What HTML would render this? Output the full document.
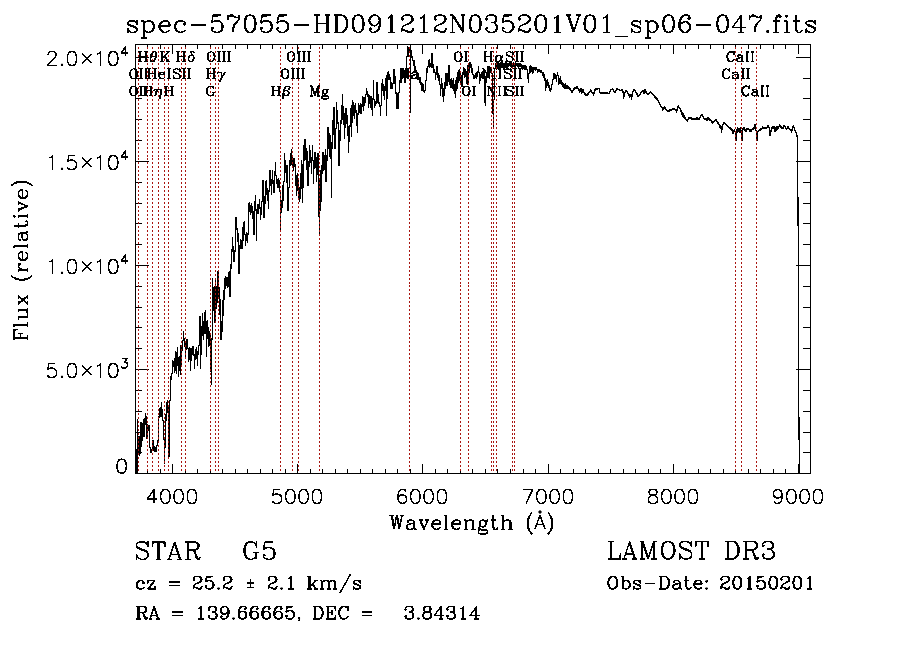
<!DOCTYPE html>
<html><head><meta charset="utf-8"><title>spec-57055-HD091212N035201V01_sp06-047</title>
<style>html,body{margin:0;padding:0;background:#fff;font-family:"Liberation Sans",sans-serif}svg{display:block}</style></head>
<body><svg width="900" height="649" viewBox="0 0 900 649">
<rect width="900" height="649" fill="#fff"/>
<path d="M135.5 44.5H810.5V473.5H135.5Z M147.5 473.5v-4.5M147.5 44.5v4.5 M160.5 473.5v-4.5M160.5 44.5v4.5 M172.5 473.5v-9.5M172.5 44.5v9.5 M185.5 473.5v-4.5M185.5 44.5v4.5 M197.5 473.5v-4.5M197.5 44.5v4.5 M210.5 473.5v-4.5M210.5 44.5v4.5 M222.5 473.5v-4.5M222.5 44.5v4.5 M235.5 473.5v-4.5M235.5 44.5v4.5 M247.5 473.5v-4.5M247.5 44.5v4.5 M260.5 473.5v-4.5M260.5 44.5v4.5 M272.5 473.5v-4.5M272.5 44.5v4.5 M285.5 473.5v-4.5M285.5 44.5v4.5 M297.5 473.5v-9.5M297.5 44.5v9.5 M310.5 473.5v-4.5M310.5 44.5v4.5 M322.5 473.5v-4.5M322.5 44.5v4.5 M335.5 473.5v-4.5M335.5 44.5v4.5 M347.5 473.5v-4.5M347.5 44.5v4.5 M360.5 473.5v-4.5M360.5 44.5v4.5 M372.5 473.5v-4.5M372.5 44.5v4.5 M385.5 473.5v-4.5M385.5 44.5v4.5 M397.5 473.5v-4.5M397.5 44.5v4.5 M410.5 473.5v-4.5M410.5 44.5v4.5 M422.5 473.5v-9.5M422.5 44.5v9.5 M435.5 473.5v-4.5M435.5 44.5v4.5 M447.5 473.5v-4.5M447.5 44.5v4.5 M460.5 473.5v-4.5M460.5 44.5v4.5 M472.5 473.5v-4.5M472.5 44.5v4.5 M485.5 473.5v-4.5M485.5 44.5v4.5 M497.5 473.5v-4.5M497.5 44.5v4.5 M510.5 473.5v-4.5M510.5 44.5v4.5 M523.5 473.5v-4.5M523.5 44.5v4.5 M535.5 473.5v-4.5M535.5 44.5v4.5 M548.5 473.5v-9.5M548.5 44.5v9.5 M560.5 473.5v-4.5M560.5 44.5v4.5 M573.5 473.5v-4.5M573.5 44.5v4.5 M585.5 473.5v-4.5M585.5 44.5v4.5 M598.5 473.5v-4.5M598.5 44.5v4.5 M610.5 473.5v-4.5M610.5 44.5v4.5 M623.5 473.5v-4.5M623.5 44.5v4.5 M635.5 473.5v-4.5M635.5 44.5v4.5 M648.5 473.5v-4.5M648.5 44.5v4.5 M660.5 473.5v-4.5M660.5 44.5v4.5 M673.5 473.5v-9.5M673.5 44.5v9.5 M685.5 473.5v-4.5M685.5 44.5v4.5 M698.5 473.5v-4.5M698.5 44.5v4.5 M710.5 473.5v-4.5M710.5 44.5v4.5 M723.5 473.5v-4.5M723.5 44.5v4.5 M735.5 473.5v-4.5M735.5 44.5v4.5 M748.5 473.5v-4.5M748.5 44.5v4.5 M760.5 473.5v-4.5M760.5 44.5v4.5 M773.5 473.5v-4.5M773.5 44.5v4.5 M785.5 473.5v-4.5M785.5 44.5v4.5 M798.5 473.5v-9.5M798.5 44.5v9.5 M810.5 473.5v-4.5M810.5 44.5v4.5 M135.5 452.5h6.5M810.5 452.5h-8 M135.5 432.5h6.5M810.5 432.5h-8 M135.5 411.5h6.5M810.5 411.5h-8 M135.5 390.5h6.5M810.5 390.5h-8 M135.5 369.5h13.5M810.5 369.5h-15 M135.5 348.5h6.5M810.5 348.5h-8 M135.5 327.5h6.5M810.5 327.5h-8 M135.5 307.5h6.5M810.5 307.5h-8 M135.5 286.5h6.5M810.5 286.5h-8 M135.5 265.5h13.5M810.5 265.5h-15 M135.5 244.5h6.5M810.5 244.5h-8 M135.5 223.5h6.5M810.5 223.5h-8 M135.5 203.5h6.5M810.5 203.5h-8 M135.5 182.5h6.5M810.5 182.5h-8 M135.5 161.5h13.5M810.5 161.5h-15 M135.5 140.5h6.5M810.5 140.5h-8 M135.5 119.5h6.5M810.5 119.5h-8 M135.5 98.5h6.5M810.5 98.5h-8 M135.5 78.5h6.5M810.5 78.5h-8 M135.5 57.5h13.5M810.5 57.5h-15" stroke="#000" stroke-width="1" fill="none" shape-rendering="crispEdges"/>
<path d="M136.5 449V474 M137.5 419V474 M138.5 436V453 M139.5 436V456 M140.5 422V454 M141.5 422V447 M142.5 423V441 M143.5 419V437 M144.5 418V437 M145.5 413V425 M146.5 416V439 M147.5 424V439 M148.5 425V431 M149.5 425V448 M150.5 447V453 M151.5 449V453 M152.5 440V450 M153.5 440V451 M154.5 446V452 M155.5 447V452 M156.5 445V452 M157.5 440V446 M158.5 416V441 M159.5 408V418 M160.5 407V417 M161.5 402V417 M162.5 409V421 M163.5 420V440 M164.5 439V464 M165.5 414V448 M166.5 402V421 M167.5 400V413 M168.5 407V457 M169.5 400V457 M170.5 376V401 M171.5 373V380 M172.5 360V374 M173.5 361V367 M174.5 358V373 M175.5 351V371 M176.5 352V374 M177.5 347V366 M178.5 357V377 M179.5 356V371 M180.5 345V375 M181.5 345V365 M182.5 340V351 M183.5 331V341 M184.5 338V347 M185.5 342V359 M186.5 339V350 M187.5 339V349 M188.5 348V362 M189.5 347V360 M190.5 348V371 M191.5 348V361 M192.5 346V355 M193.5 346V356 M194.5 354V369 M195.5 349V360 M196.5 347V359 M197.5 351V366 M198.5 345V355 M199.5 316V346 M200.5 316V369 M201.5 326V355 M202.5 313V336 M203.5 321V340 M204.5 312V334 M205.5 310V334 M206.5 321V357 M207.5 320V339 M208.5 327V347 M209.5 331V346 M210.5 335V372 M211.5 338V385 M212.5 278V340 M213.5 287V311 M214.5 286V323 M215.5 280V323 M216.5 286V309 M217.5 271V303 M218.5 271V299 M219.5 287V315 M220.5 299V340 M221.5 321V340 M222.5 300V332 M223.5 290V316 M224.5 278V300 M225.5 276V289 M226.5 277V286 M227.5 277V288 M228.5 272V287 M229.5 271V297 M230.5 264V297 M231.5 249V269 M232.5 237V252 M233.5 246V262 M234.5 250V262 M235.5 217V252 M236.5 217V230 M237.5 228V242 M238.5 233V274 M239.5 245V274 M240.5 239V249 M241.5 240V249 M242.5 227V249 M243.5 222V241 M244.5 221V235 M245.5 234V246 M246.5 232V241 M247.5 233V243 M248.5 203V235 M249.5 202V212 M250.5 205V215 M251.5 203V213 M252.5 206V219 M253.5 211V235 M254.5 201V235 M255.5 195V211 M256.5 209V241 M257.5 204V214 M258.5 204V214 M259.5 199V209 M260.5 207V220 M261.5 201V215 M262.5 180V202 M263.5 180V218 M264.5 196V218 M265.5 181V204 M266.5 180V195 M267.5 188V201 M268.5 190V209 M269.5 170V192 M270.5 170V186 M271.5 179V195 M272.5 170V184 M273.5 180V193 M274.5 171V193 M275.5 162V176 M276.5 175V184 M277.5 179V188 M278.5 178V188 M279.5 180V192 M280.5 191V232 M281.5 200V213 M282.5 185V208 M283.5 181V201 M284.5 153V182 M285.5 160V173 M286.5 165V183 M287.5 165V211 M288.5 187V211 M289.5 160V188 M290.5 153V166 M291.5 149V165 M292.5 155V166 M293.5 158V171 M294.5 158V167 M295.5 164V186 M296.5 175V196 M297.5 173V191 M298.5 179V198 M299.5 187V202 M300.5 173V199 M301.5 160V189 M302.5 164V203 M303.5 145V188 M304.5 139V161 M305.5 139V160 M306.5 148V170 M307.5 151V186 M308.5 161V186 M309.5 145V167 M310.5 150V163 M311.5 157V174 M312.5 145V161 M313.5 160V184 M314.5 152V169 M315.5 152V168 M316.5 157V182 M317.5 153V175 M318.5 153V217 M319.5 180V235 M320.5 170V211 M321.5 165V202 M322.5 152V174 M323.5 152V171 M324.5 155V170 M325.5 149V182 M326.5 155V182 M327.5 127V161 M328.5 127V149 M329.5 133V157 M330.5 135V159 M331.5 142V198 M332.5 120V149 M333.5 107V135 M334.5 107V149 M335.5 128V149 M336.5 102V129 M337.5 110V124 M338.5 122V166 M339.5 130V166 M340.5 120V141 M341.5 105V124 M342.5 94V120 M343.5 106V125 M344.5 113V139 M345.5 108V128 M346.5 108V124 M347.5 115V136 M348.5 126V153 M349.5 125V142 M350.5 108V127 M351.5 105V137 M352.5 100V123 M353.5 102V116 M354.5 105V119 M355.5 103V113 M356.5 110V126 M357.5 113V133 M358.5 103V115 M359.5 105V113 M360.5 103V114 M361.5 104V114 M362.5 96V107 M363.5 97V111 M364.5 97V106 M365.5 94V103 M366.5 88V95 M367.5 91V97 M368.5 94V108 M369.5 95V104 M370.5 96V108 M371.5 96V110 M372.5 98V116 M373.5 80V100 M374.5 99V108 M375.5 101V106 M376.5 82V104 M377.5 82V103 M378.5 94V104 M379.5 102V107 M380.5 105V116 M381.5 83V106 M382.5 79V91 M383.5 84V96 M384.5 86V100 M385.5 78V91 M386.5 75V116 M387.5 72V99 M388.5 71V80 M389.5 74V80 M390.5 77V89 M391.5 82V89 M392.5 83V89 M393.5 69V84 M394.5 69V84 M395.5 76V94 M396.5 92V109 M397.5 93V109 M398.5 92V109 M399.5 80V93 M400.5 69V83 M401.5 69V83 M402.5 68V79 M403.5 68V78 M404.5 70V83 M405.5 68V83 M406.5 56V77 M407.5 46V57 M408.5 47V57 M409.5 47V53 M410.5 47V113 M411.5 50V58 M412.5 56V61 M413.5 60V66 M414.5 60V73 M415.5 66V71 M416.5 70V74 M417.5 72V80 M418.5 73V80 M419.5 77V83 M420.5 77V85 M421.5 82V91 M422.5 83V91 M423.5 84V92 M424.5 90V93 M425.5 80V91 M426.5 68V81 M427.5 66V73 M428.5 60V67 M429.5 59V68 M430.5 63V67 M431.5 53V68 M432.5 53V68 M433.5 64V73 M434.5 69V73 M435.5 72V80 M436.5 66V75 M437.5 66V78 M438.5 73V81 M439.5 75V85 M440.5 84V96 M441.5 78V89 M442.5 83V97 M443.5 88V102 M444.5 82V96 M445.5 73V89 M446.5 73V86 M447.5 73V86 M448.5 65V82 M449.5 65V85 M450.5 79V88 M451.5 78V88 M452.5 80V89 M453.5 78V91 M454.5 84V94 M455.5 80V98 M456.5 77V91 M457.5 72V89 M458.5 70V83 M459.5 69V81 M460.5 73V85 M461.5 75V87 M462.5 72V87 M463.5 67V75 M464.5 68V78 M465.5 69V77 M466.5 71V84 M467.5 65V85 M468.5 64V85 M469.5 62V73 M470.5 62V68 M471.5 64V73 M472.5 68V75 M473.5 74V79 M474.5 75V79 M475.5 73V78 M476.5 72V79 M477.5 71V77 M478.5 66V73 M479.5 72V84 M480.5 74V81 M481.5 72V78 M482.5 71V79 M483.5 71V77 M484.5 70V103 M485.5 76V106 M486.5 72V83 M487.5 66V78 M488.5 66V77 M489.5 66V73 M490.5 67V73 M491.5 68V74 M492.5 73V114 M493.5 99V128 M494.5 68V100 M495.5 63V69 M496.5 62V70 M497.5 62V69 M498.5 61V70 M499.5 63V70 M500.5 62V69 M501.5 61V68 M502.5 62V68 M503.5 63V70 M504.5 63V69 M505.5 61V68 M506.5 62V68 M507.5 63V70 M508.5 63V67 M509.5 62V66 M510.5 61V67 M511.5 62V68 M512.5 63V67 M513.5 62V67 M514.5 63V67 M515.5 62V68 M516.5 63V66 M517.5 63V67 M518.5 63V68 M519.5 63V67 M520.5 63V67 M521.5 64V68 M522.5 65V70 M523.5 65V69 M524.5 65V70 M525.5 65V70 M526.5 66V70 M527.5 69V79 M528.5 73V83 M529.5 66V74 M530.5 65V73 M531.5 66V72 M532.5 67V74 M533.5 67V73 M534.5 67V70 M535.5 67V71 M536.5 67V70 M537.5 69V73 M538.5 69V72 M539.5 69V72 M540.5 70V73 M541.5 70V73 M542.5 72V76 M543.5 72V78 M544.5 74V81 M545.5 78V91 M546.5 80V88 M547.5 79V86 M548.5 82V88 M549.5 85V91 M550.5 88V92 M551.5 84V90 M552.5 79V85 M553.5 73V80 M554.5 73V79 M555.5 74V79 M556.5 75V82 M557.5 72V76 M558.5 75V85 M559.5 78V84 M560.5 76V84 M561.5 80V85 M562.5 82V87 M563.5 83V88 M564.5 84V89 M565.5 83V89 M566.5 85V89 M567.5 85V89 M568.5 86V89 M569.5 87V90 M570.5 88V91 M571.5 90V93 M572.5 90V93 M573.5 88V91 M574.5 87V90 M575.5 87V89 M576.5 86V89 M577.5 86V89 M578.5 88V91 M579.5 89V93 M580.5 88V92 M581.5 88V94 M582.5 89V93 M583.5 89V93 M584.5 92V95 M585.5 93V96 M586.5 94V96 M587.5 93V96 M588.5 92V95 M589.5 91V93 M590.5 89V92 M591.5 90V93 M592.5 92V94 M593.5 92V96 M594.5 89V94 M595.5 88V91 M596.5 88V90 M597.5 88V90 M598.5 88V89 M599.5 88V93 M600.5 92V94 M601.5 92V94 M602.5 92V94 M603.5 92V94 M604.5 92V94 M605.5 92V94 M606.5 92V94 M607.5 92V94 M608.5 93V94 M609.5 91V94 M610.5 89V92 M611.5 89V90 M612.5 88V90 M613.5 89V92 M614.5 91V93 M615.5 90V93 M616.5 88V91 M617.5 88V90 M618.5 89V90 M619.5 89V91 M620.5 90V91 M621.5 89V91 M622.5 89V93 M623.5 91V99 M624.5 92V97 M625.5 90V93 M626.5 90V92 M627.5 91V94 M628.5 93V96 M629.5 94V98 M630.5 94V97 M631.5 94V100 M632.5 91V97 M633.5 89V92 M634.5 89V91 M635.5 90V93 M636.5 92V95 M637.5 93V97 M638.5 95V97 M639.5 94V96 M640.5 92V95 M641.5 91V93 M642.5 90V92 M643.5 90V94 M644.5 89V94 M645.5 89V93 M646.5 91V94 M647.5 93V95 M648.5 93V95 M649.5 92V94 M650.5 91V93 M651.5 92V94 M652.5 93V95 M653.5 94V96 M654.5 95V98 M655.5 96V99 M656.5 97V100 M657.5 98V101 M658.5 100V103 M659.5 102V105 M660.5 104V107 M661.5 106V108 M662.5 107V111 M663.5 107V110 M664.5 106V109 M665.5 107V110 M666.5 109V111 M667.5 110V112 M668.5 110V112 M669.5 109V112 M670.5 109V111 M671.5 109V111 M672.5 108V110 M673.5 108V110 M674.5 108V110 M675.5 109V111 M676.5 109V113 M677.5 106V111 M678.5 105V108 M679.5 107V109 M680.5 108V112 M681.5 110V115 M682.5 112V117 M683.5 113V118 M684.5 115V119 M685.5 117V120 M686.5 119V121 M687.5 119V122 M688.5 117V120 M689.5 117V119 M690.5 117V119 M691.5 117V120 M692.5 118V120 M693.5 118V120 M694.5 118V120 M695.5 118V120 M696.5 117V120 M697.5 117V120 M698.5 118V120 M699.5 117V120 M700.5 115V118 M701.5 114V116 M702.5 114V117 M703.5 116V119 M704.5 118V120 M705.5 118V120 M706.5 118V121 M707.5 117V121 M708.5 117V120 M709.5 118V121 M710.5 119V121 M711.5 120V123 M712.5 121V124 M713.5 121V123 M714.5 120V122 M715.5 119V121 M716.5 119V122 M717.5 121V124 M718.5 122V125 M719.5 124V128 M720.5 125V129 M721.5 126V133 M722.5 124V130 M723.5 122V125 M724.5 122V124 M725.5 123V125 M726.5 124V126 M727.5 125V127 M728.5 126V128 M729.5 127V129 M730.5 127V130 M731.5 128V131 M732.5 129V134 M733.5 130V134 M734.5 129V132 M735.5 131V139 M736.5 129V141 M737.5 127V133 M738.5 128V132 M739.5 128V133 M740.5 127V133 M741.5 130V139 M742.5 128V141 M743.5 127V130 M744.5 127V131 M745.5 129V132 M746.5 128V132 M747.5 128V130 M748.5 128V130 M749.5 129V132 M750.5 129V132 M751.5 129V132 M752.5 128V130 M753.5 127V130 M754.5 124V129 M755.5 124V131 M756.5 130V139 M757.5 131V141 M758.5 130V132 M759.5 129V131 M760.5 128V131 M761.5 128V130 M762.5 126V129 M763.5 127V129 M764.5 127V129 M765.5 127V129 M766.5 127V129 M767.5 125V128 M768.5 125V128 M769.5 127V136 M770.5 130V136 M771.5 127V132 M772.5 126V129 M773.5 126V129 M774.5 126V132 M775.5 127V132 M776.5 126V131 M777.5 126V130 M778.5 126V129 M779.5 124V127 M780.5 125V128 M781.5 126V129 M782.5 127V129 M783.5 125V129 M784.5 125V127 M785.5 126V129 M786.5 128V130 M787.5 126V129 M788.5 126V129 M789.5 128V130 M790.5 129V131 M791.5 129V133 M792.5 126V131 M793.5 125V128 M794.5 127V131 M795.5 130V133 M796.5 132V137 M797.5 135V226 M798.5 197V440 M799.5 417V474" stroke="#000" stroke-width="1" fill="none" shape-rendering="crispEdges"/>
<path d="M138.5 47V157M138.5 158V284M138.5 285V473 M147.5 47V157M147.5 158V284M147.5 285V473 M152.5 47V157M152.5 158V284M152.5 285V473 M158.5 47V157M158.5 158V284M158.5 285V473 M164.5 47V157M164.5 158V284M164.5 285V473 M168.5 47V157M168.5 158V284M168.5 285V473 M181.5 47V157M181.5 158V284M181.5 285V473 M185.5 47V157M185.5 158V284M185.5 285V473 M210.5 47V157M210.5 158V284M210.5 285V473 M215.5 47V157M215.5 158V284M215.5 285V473 M218.5 47V157M218.5 158V284M218.5 285V473 M280.5 47V157M280.5 158V284M280.5 285V473 M292.5 47V157M292.5 158V284M292.5 285V473 M298.5 47V157M298.5 158V284M298.5 285V473 M319.5 47V157M319.5 158V284M319.5 285V473 M409.5 47V157M409.5 158V284M409.5 285V473 M460.5 47V157M460.5 158V284M460.5 285V473 M468.5 47V157M468.5 158V284M468.5 285V473 M491.5 47V157M491.5 158V284M491.5 285V473 M493.5 47V157M493.5 158V284M493.5 285V473 M496.5 47V157M496.5 158V284M496.5 285V473 M512.5 47V157M512.5 158V284M512.5 285V473 M514.5 47V157M514.5 158V284M514.5 285V473 M735.5 47V157M735.5 158V284M735.5 285V473 M741.5 47V157M741.5 158V284M741.5 285V473 M756.5 47V157M756.5 158V284M756.5 285V473" stroke="#a91510" stroke-width="1" stroke-dasharray="2 2" fill="none" shape-rendering="crispEdges"/>
<path d="M136.22 22.47 L137.04 20.83 L137.04 24.11 L136.22 22.47 L135.40 21.65 L133.76 20.83 L130.49 20.83 L128.85 21.65 L128.03 22.47 L128.03 24.11 L128.85 24.93 L130.49 25.75 L134.58 27.39 L136.22 28.20 L137.04 29.02 M128.03 23.29 L128.85 24.11 L130.49 24.93 L134.58 26.57 L136.22 27.39 L137.04 28.20 L137.04 30.66 L136.22 31.48 L134.58 32.30 L131.31 32.30 L129.67 31.48 L128.85 30.66 L128.03 29.02 L128.03 32.30 L128.85 30.66 M143.59 20.83 L143.59 38.03 M144.41 20.83 L144.41 38.03 M144.41 23.29 L146.05 21.65 L147.69 20.83 L149.32 20.83 L151.78 21.65 L153.42 23.29 L154.24 25.75 L154.24 27.39 L153.42 29.84 L151.78 31.48 L149.32 32.30 L147.69 32.30 L146.05 31.48 L144.41 29.84 M149.32 20.83 L150.96 21.65 L152.60 23.29 L153.42 25.75 L153.42 27.39 L152.60 29.84 L150.96 31.48 L149.32 32.30 M141.13 20.83 L144.41 20.83 M141.13 38.03 L146.87 38.03 M159.97 25.75 L169.80 25.75 L169.80 24.11 L168.98 22.47 L168.16 21.65 L166.52 20.83 L164.07 20.83 L161.61 21.65 L159.97 23.29 L159.15 25.75 L159.15 27.39 L159.97 29.84 L161.61 31.48 L164.07 32.30 L165.70 32.30 L168.16 31.48 L169.80 29.84 M168.98 25.75 L168.98 23.29 L168.16 21.65 M164.07 20.83 L162.43 21.65 L160.79 23.29 L159.97 25.75 L159.97 27.39 L160.79 29.84 L162.43 31.48 L164.07 32.30 M184.54 23.29 L183.72 24.11 L184.54 24.93 L185.36 24.11 L185.36 23.29 L183.72 21.65 L182.08 20.83 L179.63 20.83 L177.17 21.65 L175.53 23.29 L174.71 25.75 L174.71 27.39 L175.53 29.84 L177.17 31.48 L179.63 32.30 L181.26 32.30 L183.72 31.48 L185.36 29.84 M179.63 20.83 L177.99 21.65 L176.35 23.29 L175.53 25.75 L175.53 27.39 L176.35 29.84 L177.99 31.48 L179.63 32.30 M191.09 24.93 L205.83 24.93 M213.21 15.10 L211.57 23.29 M211.57 23.29 L213.21 21.65 L215.66 20.83 L218.12 20.83 L220.58 21.65 L222.21 23.29 L223.03 25.75 L223.03 27.39 L222.21 29.84 L220.58 31.48 L218.12 32.30 L215.66 32.30 L213.21 31.48 L212.39 30.66 L211.57 29.02 L211.57 28.20 L212.39 27.39 L213.21 28.20 L212.39 29.02 M218.12 20.83 L219.76 21.65 L221.40 23.29 L222.21 25.75 L222.21 27.39 L221.40 29.84 L219.76 31.48 L218.12 32.30 M213.21 15.10 L221.40 15.10 M213.21 15.92 L217.30 15.92 L221.40 15.10 M227.95 15.10 L227.95 20.01 M227.95 18.38 L228.77 16.74 L230.40 15.10 L232.04 15.10 L236.14 17.56 L237.78 17.56 L238.59 16.74 L239.41 15.10 M228.77 16.74 L230.40 15.92 L232.04 15.92 L236.14 17.56 M239.41 15.10 L239.41 17.56 L238.59 20.01 L235.32 24.11 L234.50 25.75 L233.68 28.20 L233.68 32.30 M238.59 20.01 L234.50 24.11 L233.68 25.75 L232.86 28.20 L232.86 32.30 M249.24 15.10 L246.78 15.92 L245.15 18.38 L244.33 22.47 L244.33 24.93 L245.15 29.02 L246.78 31.48 L249.24 32.30 L250.88 32.30 L253.34 31.48 L254.97 29.02 L255.79 24.93 L255.79 22.47 L254.97 18.38 L253.34 15.92 L250.88 15.10 L249.24 15.10 M249.24 15.10 L247.60 15.92 L246.78 16.74 L245.97 18.38 L245.15 22.47 L245.15 24.93 L245.97 29.02 L246.78 30.66 L247.60 31.48 L249.24 32.30 M250.88 32.30 L252.52 31.48 L253.34 30.66 L254.16 29.02 L254.97 24.93 L254.97 22.47 L254.16 18.38 L253.34 16.74 L252.52 15.92 L250.88 15.10 M262.35 15.10 L260.71 23.29 M260.71 23.29 L262.35 21.65 L264.80 20.83 L267.26 20.83 L269.72 21.65 L271.35 23.29 L272.17 25.75 L272.17 27.39 L271.35 29.84 L269.72 31.48 L267.26 32.30 L264.80 32.30 L262.35 31.48 L261.53 30.66 L260.71 29.02 L260.71 28.20 L261.53 27.39 L262.35 28.20 L261.53 29.02 M267.26 20.83 L268.90 21.65 L270.54 23.29 L271.35 25.75 L271.35 27.39 L270.54 29.84 L268.90 31.48 L267.26 32.30 M262.35 15.10 L270.54 15.10 M262.35 15.92 L266.44 15.92 L270.54 15.10 M278.73 15.10 L277.09 23.29 M277.09 23.29 L278.73 21.65 L281.18 20.83 L283.64 20.83 L286.10 21.65 L287.73 23.29 L288.55 25.75 L288.55 27.39 L287.73 29.84 L286.10 31.48 L283.64 32.30 L281.18 32.30 L278.73 31.48 L277.91 30.66 L277.09 29.02 L277.09 28.20 L277.91 27.39 L278.73 28.20 L277.91 29.02 M283.64 20.83 L285.28 21.65 L286.92 23.29 L287.73 25.75 L287.73 27.39 L286.92 29.84 L285.28 31.48 L283.64 32.30 M278.73 15.10 L286.92 15.10 M278.73 15.92 L282.82 15.92 L286.92 15.10 M294.29 24.93 L309.03 24.93 M316.40 15.10 L316.40 32.30 M317.22 15.10 L317.22 32.30 M327.05 15.10 L327.05 32.30 M327.87 15.10 L327.87 32.30 M313.94 15.10 L319.68 15.10 M324.59 15.10 L330.32 15.10 M317.22 23.29 L327.05 23.29 M313.94 32.30 L319.68 32.30 M324.59 32.30 L330.32 32.30 M336.06 15.10 L336.06 32.30 M336.87 15.10 L336.87 32.30 M333.60 15.10 L341.79 15.10 L344.25 15.92 L345.88 17.56 L346.70 19.20 L347.52 21.65 L347.52 25.75 L346.70 28.20 L345.88 29.84 L344.25 31.48 L341.79 32.30 L333.60 32.30 M341.79 15.10 L343.43 15.92 L345.06 17.56 L345.88 19.20 L346.70 21.65 L346.70 25.75 L345.88 28.20 L345.06 29.84 L343.43 31.48 L341.79 32.30 M357.35 15.10 L354.89 15.92 L353.25 18.38 L352.44 22.47 L352.44 24.93 L353.25 29.02 L354.89 31.48 L357.35 32.30 L358.99 32.30 L361.44 31.48 L363.08 29.02 L363.90 24.93 L363.90 22.47 L363.08 18.38 L361.44 15.92 L358.99 15.10 L357.35 15.10 M357.35 15.10 L355.71 15.92 L354.89 16.74 L354.07 18.38 L353.25 22.47 L353.25 24.93 L354.07 29.02 L354.89 30.66 L355.71 31.48 L357.35 32.30 M358.99 32.30 L360.63 31.48 L361.44 30.66 L362.26 29.02 L363.08 24.93 L363.08 22.47 L362.26 18.38 L361.44 16.74 L360.63 15.92 L358.99 15.10 M379.46 20.83 L378.64 23.29 L377.01 24.93 L374.55 25.75 L373.73 25.75 L371.27 24.93 L369.63 23.29 L368.82 20.83 L368.82 20.01 L369.63 17.56 L371.27 15.92 L373.73 15.10 L375.37 15.10 L377.82 15.92 L379.46 17.56 L380.28 20.01 L380.28 24.93 L379.46 28.20 L378.64 29.84 L377.01 31.48 L374.55 32.30 L372.09 32.30 L370.45 31.48 L369.63 29.84 L369.63 29.02 L370.45 28.20 L371.27 29.02 L370.45 29.84 M373.73 25.75 L372.09 24.93 L370.45 23.29 L369.63 20.83 L369.63 20.01 L370.45 17.56 L372.09 15.92 L373.73 15.10 M375.37 15.10 L377.01 15.92 L378.64 17.56 L379.46 20.01 L379.46 24.93 L378.64 28.20 L377.82 29.84 L376.19 31.48 L374.55 32.30 M387.65 18.38 L389.29 17.56 L391.75 15.10 L391.75 32.30 M390.93 15.92 L390.93 32.30 M387.65 32.30 L395.02 32.30 M402.39 18.38 L403.21 19.20 L402.39 20.01 L401.58 19.20 L401.58 18.38 L402.39 16.74 L403.21 15.92 L405.67 15.10 L408.95 15.10 L411.40 15.92 L412.22 16.74 L413.04 18.38 L413.04 20.01 L412.22 21.65 L409.77 23.29 L405.67 24.93 L404.03 25.75 L402.39 27.39 L401.58 29.84 L401.58 32.30 M408.95 15.10 L410.58 15.92 L411.40 16.74 L412.22 18.38 L412.22 20.01 L411.40 21.65 L408.95 23.29 L405.67 24.93 M401.58 30.66 L402.39 29.84 L404.03 29.84 L408.13 31.48 L410.58 31.48 L412.22 30.66 L413.04 29.84 M404.03 29.84 L408.13 32.30 L411.40 32.30 L412.22 31.48 L413.04 29.84 L413.04 28.20 M420.41 18.38 L422.05 17.56 L424.51 15.10 L424.51 32.30 M423.69 15.92 L423.69 32.30 M420.41 32.30 L427.78 32.30 M435.15 18.38 L435.97 19.20 L435.15 20.01 L434.34 19.20 L434.34 18.38 L435.15 16.74 L435.97 15.92 L438.43 15.10 L441.71 15.10 L444.16 15.92 L444.98 16.74 L445.80 18.38 L445.80 20.01 L444.98 21.65 L442.53 23.29 L438.43 24.93 L436.79 25.75 L435.15 27.39 L434.34 29.84 L434.34 32.30 M441.71 15.10 L443.34 15.92 L444.16 16.74 L444.98 18.38 L444.98 20.01 L444.16 21.65 L441.71 23.29 L438.43 24.93 M434.34 30.66 L435.15 29.84 L436.79 29.84 L440.89 31.48 L443.34 31.48 L444.98 30.66 L445.80 29.84 M436.79 29.84 L440.89 32.30 L444.16 32.30 L444.98 31.48 L445.80 29.84 L445.80 28.20 M452.35 15.10 L452.35 32.30 M453.17 15.10 L463.00 30.66 M453.17 16.74 L463.00 32.30 M463.00 15.10 L463.00 32.30 M449.90 15.10 L453.17 15.10 M460.54 15.10 L465.46 15.10 M449.90 32.30 L454.81 32.30 M474.47 15.10 L472.01 15.92 L470.37 18.38 L469.55 22.47 L469.55 24.93 L470.37 29.02 L472.01 31.48 L474.47 32.30 L476.10 32.30 L478.56 31.48 L480.20 29.02 L481.02 24.93 L481.02 22.47 L480.20 18.38 L478.56 15.92 L476.10 15.10 L474.47 15.10 M474.47 15.10 L472.83 15.92 L472.01 16.74 L471.19 18.38 L470.37 22.47 L470.37 24.93 L471.19 29.02 L472.01 30.66 L472.83 31.48 L474.47 32.30 M476.10 32.30 L477.74 31.48 L478.56 30.66 L479.38 29.02 L480.20 24.93 L480.20 22.47 L479.38 18.38 L478.56 16.74 L477.74 15.92 L476.10 15.10 M486.75 18.38 L487.57 19.20 L486.75 20.01 L485.93 19.20 L485.93 18.38 L486.75 16.74 L487.57 15.92 L490.03 15.10 L493.30 15.10 L495.76 15.92 L496.58 17.56 L496.58 20.01 L495.76 21.65 L493.30 22.47 L490.85 22.47 M493.30 15.10 L494.94 15.92 L495.76 17.56 L495.76 20.01 L494.94 21.65 L493.30 22.47 M493.30 22.47 L494.94 23.29 L496.58 24.93 L497.40 26.57 L497.40 29.02 L496.58 30.66 L495.76 31.48 L493.30 32.30 L490.03 32.30 L487.57 31.48 L486.75 30.66 L485.93 29.02 L485.93 28.20 L486.75 27.39 L487.57 28.20 L486.75 29.02 M495.76 24.11 L496.58 26.57 L496.58 29.02 L495.76 30.66 L494.94 31.48 L493.30 32.30 M503.95 15.10 L502.31 23.29 M502.31 23.29 L503.95 21.65 L506.41 20.83 L508.86 20.83 L511.32 21.65 L512.96 23.29 L513.78 25.75 L513.78 27.39 L512.96 29.84 L511.32 31.48 L508.86 32.30 L506.41 32.30 L503.95 31.48 L503.13 30.66 L502.31 29.02 L502.31 28.20 L503.13 27.39 L503.95 28.20 L503.13 29.02 M508.86 20.83 L510.50 21.65 L512.14 23.29 L512.96 25.75 L512.96 27.39 L512.14 29.84 L510.50 31.48 L508.86 32.30 M503.95 15.10 L512.14 15.10 M503.95 15.92 L508.05 15.92 L512.14 15.10 M519.51 18.38 L520.33 19.20 L519.51 20.01 L518.69 19.20 L518.69 18.38 L519.51 16.74 L520.33 15.92 L522.79 15.10 L526.06 15.10 L528.52 15.92 L529.34 16.74 L530.16 18.38 L530.16 20.01 L529.34 21.65 L526.88 23.29 L522.79 24.93 L521.15 25.75 L519.51 27.39 L518.69 29.84 L518.69 32.30 M526.06 15.10 L527.70 15.92 L528.52 16.74 L529.34 18.38 L529.34 20.01 L528.52 21.65 L526.06 23.29 L522.79 24.93 M518.69 30.66 L519.51 29.84 L521.15 29.84 L525.24 31.48 L527.70 31.48 L529.34 30.66 L530.16 29.84 M521.15 29.84 L525.24 32.30 L528.52 32.30 L529.34 31.48 L530.16 29.84 L530.16 28.20 M539.99 15.10 L537.53 15.92 L535.89 18.38 L535.07 22.47 L535.07 24.93 L535.89 29.02 L537.53 31.48 L539.99 32.30 L541.62 32.30 L544.08 31.48 L545.72 29.02 L546.54 24.93 L546.54 22.47 L545.72 18.38 L544.08 15.92 L541.62 15.10 L539.99 15.10 M539.99 15.10 L538.35 15.92 L537.53 16.74 L536.71 18.38 L535.89 22.47 L535.89 24.93 L536.71 29.02 L537.53 30.66 L538.35 31.48 L539.99 32.30 M541.62 32.30 L543.26 31.48 L544.08 30.66 L544.90 29.02 L545.72 24.93 L545.72 22.47 L544.90 18.38 L544.08 16.74 L543.26 15.92 L541.62 15.10 M553.91 18.38 L555.55 17.56 L558.00 15.10 L558.00 32.30 M557.19 15.92 L557.19 32.30 M553.91 32.30 L561.28 32.30 M567.83 15.10 L573.57 32.30 M568.65 15.10 L573.57 29.84 M579.30 15.10 L573.57 32.30 M566.19 15.10 L571.11 15.10 M576.02 15.10 L580.94 15.10 M589.13 15.10 L586.67 15.92 L585.03 18.38 L584.21 22.47 L584.21 24.93 L585.03 29.02 L586.67 31.48 L589.13 32.30 L590.76 32.30 L593.22 31.48 L594.86 29.02 L595.68 24.93 L595.68 22.47 L594.86 18.38 L593.22 15.92 L590.76 15.10 L589.13 15.10 M589.13 15.10 L587.49 15.92 L586.67 16.74 L585.85 18.38 L585.03 22.47 L585.03 24.93 L585.85 29.02 L586.67 30.66 L587.49 31.48 L589.13 32.30 M590.76 32.30 L592.40 31.48 L593.22 30.66 L594.04 29.02 L594.86 24.93 L594.86 22.47 L594.04 18.38 L593.22 16.74 L592.40 15.92 L590.76 15.10 M603.05 18.38 L604.69 17.56 L607.14 15.10 L607.14 32.30 M606.33 15.92 L606.33 32.30 M603.05 32.30 L610.42 32.30 M615.33 36.39 L628.44 36.39 M639.90 22.47 L640.72 20.83 L640.72 24.11 L639.90 22.47 L639.09 21.65 L637.45 20.83 L634.17 20.83 L632.53 21.65 L631.71 22.47 L631.71 24.11 L632.53 24.93 L634.17 25.75 L638.27 27.39 L639.90 28.20 L640.72 29.02 M631.71 23.29 L632.53 24.11 L634.17 24.93 L638.27 26.57 L639.90 27.39 L640.72 28.20 L640.72 30.66 L639.90 31.48 L638.27 32.30 L634.99 32.30 L633.35 31.48 L632.53 30.66 L631.71 29.02 L631.71 32.30 L632.53 30.66 M647.28 20.83 L647.28 38.03 M648.09 20.83 L648.09 38.03 M648.09 23.29 L649.73 21.65 L651.37 20.83 L653.01 20.83 L655.47 21.65 L657.10 23.29 L657.92 25.75 L657.92 27.39 L657.10 29.84 L655.47 31.48 L653.01 32.30 L651.37 32.30 L649.73 31.48 L648.09 29.84 M653.01 20.83 L654.65 21.65 L656.28 23.29 L657.10 25.75 L657.10 27.39 L656.28 29.84 L654.65 31.48 L653.01 32.30 M644.82 20.83 L648.09 20.83 M644.82 38.03 L650.55 38.03 M667.75 15.10 L665.29 15.92 L663.66 18.38 L662.84 22.47 L662.84 24.93 L663.66 29.02 L665.29 31.48 L667.75 32.30 L669.39 32.30 L671.85 31.48 L673.48 29.02 L674.30 24.93 L674.30 22.47 L673.48 18.38 L671.85 15.92 L669.39 15.10 L667.75 15.10 M667.75 15.10 L666.11 15.92 L665.29 16.74 L664.47 18.38 L663.66 22.47 L663.66 24.93 L664.47 29.02 L665.29 30.66 L666.11 31.48 L667.75 32.30 M669.39 32.30 L671.03 31.48 L671.85 30.66 L672.66 29.02 L673.48 24.93 L673.48 22.47 L672.66 18.38 L671.85 16.74 L671.03 15.92 L669.39 15.10 M689.04 17.56 L688.23 18.38 L689.04 19.20 L689.86 18.38 L689.86 17.56 L689.04 15.92 L687.41 15.10 L684.95 15.10 L682.49 15.92 L680.85 17.56 L680.04 19.20 L679.22 22.47 L679.22 27.39 L680.04 29.84 L681.67 31.48 L684.13 32.30 L685.77 32.30 L688.23 31.48 L689.86 29.84 L690.68 27.39 L690.68 26.57 L689.86 24.11 L688.23 22.47 L685.77 21.65 L684.95 21.65 L682.49 22.47 L680.85 24.11 L680.04 26.57 M684.95 15.10 L683.31 15.92 L681.67 17.56 L680.85 19.20 L680.04 22.47 L680.04 27.39 L680.85 29.84 L682.49 31.48 L684.13 32.30 M685.77 32.30 L687.41 31.48 L689.04 29.84 L689.86 27.39 L689.86 26.57 L689.04 24.11 L687.41 22.47 L685.77 21.65 M696.42 24.93 L711.16 24.93 M721.80 15.10 L719.35 15.92 L717.71 18.38 L716.89 22.47 L716.89 24.93 L717.71 29.02 L719.35 31.48 L721.80 32.30 L723.44 32.30 L725.90 31.48 L727.54 29.02 L728.36 24.93 L728.36 22.47 L727.54 18.38 L725.90 15.92 L723.44 15.10 L721.80 15.10 M721.80 15.10 L720.17 15.92 L719.35 16.74 L718.53 18.38 L717.71 22.47 L717.71 24.93 L718.53 29.02 L719.35 30.66 L720.17 31.48 L721.80 32.30 M723.44 32.30 L725.08 31.48 L725.90 30.66 L726.72 29.02 L727.54 24.93 L727.54 22.47 L726.72 18.38 L725.90 16.74 L725.08 15.92 L723.44 15.10 M740.64 16.74 L740.64 32.30 M741.46 15.10 L741.46 32.30 M741.46 15.10 L732.45 27.39 L745.56 27.39 M738.18 32.30 L743.92 32.30 M749.65 15.10 L749.65 20.01 M749.65 18.38 L750.47 16.74 L752.11 15.10 L753.75 15.10 L757.84 17.56 L759.48 17.56 L760.30 16.74 L761.12 15.10 M750.47 16.74 L752.11 15.92 L753.75 15.92 L757.84 17.56 M761.12 15.10 L761.12 17.56 L760.30 20.01 L757.02 24.11 L756.20 25.75 L755.38 28.20 L755.38 32.30 M760.30 20.01 L756.20 24.11 L755.38 25.75 L754.56 28.20 L754.56 32.30 M767.67 30.66 L766.85 31.48 L767.67 32.30 L768.49 31.48 L767.67 30.66 M779.95 15.92 L779.13 16.74 L779.95 17.56 L780.77 16.74 L780.77 15.92 L779.95 15.10 L778.32 15.10 L776.68 15.92 L775.86 17.56 L775.86 32.30 M778.32 15.10 L777.50 15.92 L776.68 17.56 L776.68 32.30 M773.40 20.83 L779.95 20.83 M773.40 32.30 L779.13 32.30 M786.51 15.10 L785.69 15.92 L786.51 16.74 L787.32 15.92 L786.51 15.10 M786.51 20.83 L786.51 32.30 M787.32 20.83 L787.32 32.30 M784.05 20.83 L787.32 20.83 M784.05 32.30 L789.78 32.30 M795.51 15.10 L795.51 29.02 L796.33 31.48 L797.97 32.30 L799.61 32.30 L801.25 31.48 L802.07 29.84 M796.33 15.10 L796.33 29.02 L797.15 31.48 L797.97 32.30 M793.06 20.83 L799.61 20.83 M814.35 22.47 L815.17 20.83 L815.17 24.11 L814.35 22.47 L813.53 21.65 L811.89 20.83 L808.62 20.83 L806.98 21.65 L806.16 22.47 L806.16 24.11 L806.98 24.93 L808.62 25.75 L812.71 27.39 L814.35 28.20 L815.17 29.02 M806.16 23.29 L806.98 24.11 L808.62 24.93 L812.71 26.57 L814.35 27.39 L815.17 28.20 L815.17 30.66 L814.35 31.48 L812.71 32.30 L809.44 32.30 L807.80 31.48 L806.98 30.66 L806.16 29.02 L806.16 32.30 L806.98 30.66 M154.05 489.44 L147.40 498.75 L157.37 498.75 M154.05 489.44 L154.05 503.40 M164.69 489.44 L162.69 490.10 L161.36 492.09 L160.69 495.42 L160.69 497.41 L161.36 500.74 L162.69 502.73 L164.69 503.40 L166.02 503.40 L168.01 502.73 L169.34 500.74 L170.00 497.41 L170.00 495.42 L169.34 492.09 L168.01 490.10 L166.02 489.44 L164.69 489.44 M177.99 489.44 L175.99 490.10 L174.66 492.09 L174.00 495.42 L174.00 497.41 L174.66 500.74 L175.99 502.73 L177.99 503.40 L179.31 503.40 L181.31 502.73 L182.64 500.74 L183.31 497.41 L183.31 495.42 L182.64 492.09 L181.31 490.10 L179.31 489.44 L177.99 489.44 M191.29 489.44 L189.29 490.10 L187.96 492.09 L187.30 495.42 L187.30 497.41 L187.96 500.74 L189.29 502.73 L191.29 503.40 L192.62 503.40 L194.61 502.73 L195.94 500.74 L196.61 497.41 L196.61 495.42 L195.94 492.09 L194.61 490.10 L192.62 489.44 L191.29 489.44 M280.38 489.44 L273.72 489.44 L273.06 495.42 L273.72 494.75 L275.72 494.09 L277.71 494.09 L279.71 494.75 L281.04 496.08 L281.70 498.08 L281.70 499.41 L281.04 501.40 L279.71 502.73 L277.71 503.40 L275.72 503.40 L273.72 502.73 L273.06 502.07 L272.39 500.74 M289.69 489.44 L287.69 490.10 L286.36 492.09 L285.69 495.42 L285.69 497.41 L286.36 500.74 L287.69 502.73 L289.69 503.40 L291.01 503.40 L293.01 502.73 L294.34 500.74 L295.00 497.41 L295.00 495.42 L294.34 492.09 L293.01 490.10 L291.01 489.44 L289.69 489.44 M302.98 489.44 L300.99 490.10 L299.66 492.09 L299.00 495.42 L299.00 497.41 L299.66 500.74 L300.99 502.73 L302.98 503.40 L304.31 503.40 L306.31 502.73 L307.64 500.74 L308.30 497.41 L308.30 495.42 L307.64 492.09 L306.31 490.10 L304.31 489.44 L302.98 489.44 M316.28 489.44 L314.29 490.10 L312.96 492.09 L312.29 495.42 L312.29 497.41 L312.96 500.74 L314.29 502.73 L316.28 503.40 L317.62 503.40 L319.61 502.73 L320.94 500.74 L321.60 497.41 L321.60 495.42 L320.94 492.09 L319.61 490.10 L317.62 489.44 L316.28 489.44 M406.04 491.43 L405.38 490.10 L403.38 489.44 L402.05 489.44 L400.05 490.10 L398.72 492.09 L398.06 495.42 L398.06 498.75 L398.72 501.40 L400.05 502.73 L402.05 503.40 L402.71 503.40 L404.71 502.73 L406.04 501.40 L406.70 499.41 L406.70 498.75 L406.04 496.75 L404.71 495.42 L402.71 494.75 L402.05 494.75 L400.05 495.42 L398.72 496.75 L398.06 498.75 M414.69 489.44 L412.69 490.10 L411.36 492.09 L410.69 495.42 L410.69 497.41 L411.36 500.74 L412.69 502.73 L414.69 503.40 L416.01 503.40 L418.01 502.73 L419.34 500.74 L420.00 497.41 L420.00 495.42 L419.34 492.09 L418.01 490.10 L416.01 489.44 L414.69 489.44 M427.98 489.44 L425.99 490.10 L424.66 492.09 L424.00 495.42 L424.00 497.41 L424.66 500.74 L425.99 502.73 L427.98 503.40 L429.31 503.40 L431.31 502.73 L432.64 500.74 L433.30 497.41 L433.30 495.42 L432.64 492.09 L431.31 490.10 L429.31 489.44 L427.98 489.44 M441.28 489.44 L439.29 490.10 L437.96 492.09 L437.29 495.42 L437.29 497.41 L437.96 500.74 L439.29 502.73 L441.28 503.40 L442.62 503.40 L444.61 502.73 L445.94 500.74 L446.60 497.41 L446.60 495.42 L445.94 492.09 L444.61 490.10 L442.62 489.44 L441.28 489.44 M532.70 489.44 L526.05 503.40 M523.39 489.44 L532.70 489.44 M540.68 489.44 L538.69 490.10 L537.36 492.09 L536.69 495.42 L536.69 497.41 L537.36 500.74 L538.69 502.73 L540.68 503.40 L542.01 503.40 L544.01 502.73 L545.34 500.74 L546.00 497.41 L546.00 495.42 L545.34 492.09 L544.01 490.10 L542.01 489.44 L540.68 489.44 M553.99 489.44 L551.99 490.10 L550.66 492.09 L550.00 495.42 L550.00 497.41 L550.66 500.74 L551.99 502.73 L553.99 503.40 L555.31 503.40 L557.31 502.73 L558.64 500.74 L559.30 497.41 L559.30 495.42 L558.64 492.09 L557.31 490.10 L555.31 489.44 L553.99 489.44 M567.28 489.44 L565.29 490.10 L563.96 492.09 L563.29 495.42 L563.29 497.41 L563.96 500.74 L565.29 502.73 L567.28 503.40 L568.62 503.40 L570.61 502.73 L571.94 500.74 L572.61 497.41 L572.61 495.42 L571.94 492.09 L570.61 490.10 L568.62 489.44 L567.28 489.44 M651.72 489.44 L649.73 490.10 L649.06 491.43 L649.06 492.76 L649.73 494.09 L651.05 494.75 L653.72 495.42 L655.71 496.08 L657.04 497.41 L657.70 498.75 L657.70 500.74 L657.04 502.07 L656.38 502.73 L654.38 503.40 L651.72 503.40 L649.73 502.73 L649.06 502.07 L648.39 500.74 L648.39 498.75 L649.06 497.41 L650.39 496.08 L652.38 495.42 L655.04 494.75 L656.38 494.09 L657.04 492.76 L657.04 491.43 L656.38 490.10 L654.38 489.44 L651.72 489.44 M665.68 489.44 L663.69 490.10 L662.36 492.09 L661.69 495.42 L661.69 497.41 L662.36 500.74 L663.69 502.73 L665.68 503.40 L667.01 503.40 L669.01 502.73 L670.34 500.74 L671.00 497.41 L671.00 495.42 L670.34 492.09 L669.01 490.10 L667.01 489.44 L665.68 489.44 M678.99 489.44 L676.99 490.10 L675.66 492.09 L675.00 495.42 L675.00 497.41 L675.66 500.74 L676.99 502.73 L678.99 503.40 L680.31 503.40 L682.31 502.73 L683.64 500.74 L684.30 497.41 L684.30 495.42 L683.64 492.09 L682.31 490.10 L680.31 489.44 L678.99 489.44 M692.28 489.44 L690.29 490.10 L688.96 492.09 L688.29 495.42 L688.29 497.41 L688.96 500.74 L690.29 502.73 L692.28 503.40 L693.62 503.40 L695.61 502.73 L696.94 500.74 L697.61 497.41 L697.61 495.42 L696.94 492.09 L695.61 490.10 L693.62 489.44 L692.28 489.44 M782.04 494.09 L781.38 496.08 L780.04 497.41 L778.05 498.08 L777.38 498.08 L775.39 497.41 L774.06 496.08 L773.39 494.09 L773.39 493.42 L774.06 491.43 L775.39 490.10 L777.38 489.44 L778.05 489.44 L780.04 490.10 L781.38 491.43 L782.04 494.09 L782.04 497.41 L781.38 500.74 L780.04 502.73 L778.05 503.40 L776.72 503.40 L774.73 502.73 L774.06 501.40 M790.68 489.44 L788.69 490.10 L787.36 492.09 L786.69 495.42 L786.69 497.41 L787.36 500.74 L788.69 502.73 L790.68 503.40 L792.01 503.40 L794.01 502.73 L795.34 500.74 L796.00 497.41 L796.00 495.42 L795.34 492.09 L794.01 490.10 L792.01 489.44 L790.68 489.44 M803.99 489.44 L801.99 490.10 L800.66 492.09 L800.00 495.42 L800.00 497.41 L800.66 500.74 L801.99 502.73 L803.99 503.40 L805.31 503.40 L807.31 502.73 L808.64 500.74 L809.30 497.41 L809.30 495.42 L808.64 492.09 L807.31 490.10 L805.31 489.44 L803.99 489.44 M817.28 489.44 L815.29 490.10 L813.96 492.09 L813.29 495.42 L813.29 497.41 L813.96 500.74 L815.29 502.73 L817.28 503.40 L818.62 503.40 L820.61 502.73 L821.94 500.74 L822.61 497.41 L822.61 495.42 L821.94 492.09 L820.61 490.10 L818.62 489.44 L817.28 489.44 M125.73 46.60 L121.21 52.93 L128.00 52.93 M125.73 46.60 L125.73 56.10 M97.25 54.20 L98.58 53.53 L100.57 51.53 L100.57 65.50 M112.54 51.53 L110.55 52.20 L109.22 54.20 L108.55 57.52 L108.55 59.52 L109.22 62.84 L110.55 64.83 L112.54 65.50 L113.87 65.50 L115.87 64.83 L117.20 62.84 L117.86 59.52 L117.86 57.52 L117.20 54.20 L115.87 52.20 L113.87 51.53 L112.54 51.53 M81.99 53.86 L91.30 63.17 M91.30 53.86 L81.99 63.17 M48.04 54.86 L48.04 54.20 L48.70 52.86 L49.37 52.20 L50.70 51.53 L53.36 51.53 L54.69 52.20 L55.35 52.86 L56.02 54.20 L56.02 55.52 L55.35 56.86 L54.02 58.85 L47.37 65.50 L56.68 65.50 M62.00 64.17 L61.34 64.83 L62.00 65.50 L62.67 64.83 L62.00 64.17 M71.31 51.53 L69.32 52.20 L67.99 54.20 L67.32 57.52 L67.32 59.52 L67.99 62.84 L69.32 64.83 L71.31 65.50 L72.64 65.50 L74.64 64.83 L75.97 62.84 L76.63 59.52 L76.63 57.52 L75.97 54.20 L74.64 52.20 L72.64 51.53 L71.31 51.53 M125.73 150.60 L121.21 156.93 L128.00 156.93 M125.73 150.60 L125.73 160.10 M97.25 158.19 L98.58 157.53 L100.57 155.53 L100.57 169.50 M112.54 155.53 L110.55 156.20 L109.22 158.19 L108.55 161.52 L108.55 163.51 L109.22 166.84 L110.55 168.84 L112.54 169.50 L113.87 169.50 L115.87 168.84 L117.20 166.84 L117.86 163.51 L117.86 161.52 L117.20 158.19 L115.87 156.20 L113.87 155.53 L112.54 155.53 M81.99 157.86 L91.30 167.17 M91.30 157.86 L81.99 167.17 M49.37 158.19 L50.70 157.53 L52.69 155.53 L52.69 169.50 M62.00 168.17 L61.34 168.84 L62.00 169.50 L62.67 168.84 L62.00 168.17 M75.30 155.53 L68.65 155.53 L67.99 161.52 L68.65 160.85 L70.65 160.19 L72.64 160.19 L74.64 160.85 L75.97 162.19 L76.63 164.18 L76.63 165.51 L75.97 167.50 L74.64 168.84 L72.64 169.50 L70.65 169.50 L68.65 168.84 L67.99 168.17 L67.32 166.84 M125.73 254.60 L121.21 260.93 L128.00 260.93 M125.73 254.60 L125.73 264.10 M97.25 262.19 L98.58 261.53 L100.57 259.54 L100.57 273.50 M112.54 259.54 L110.55 260.20 L109.22 262.19 L108.55 265.52 L108.55 267.51 L109.22 270.84 L110.55 272.83 L112.54 273.50 L113.87 273.50 L115.87 272.83 L117.20 270.84 L117.86 267.51 L117.86 265.52 L117.20 262.19 L115.87 260.20 L113.87 259.54 L112.54 259.54 M81.99 261.86 L91.30 271.17 M91.30 261.86 L81.99 271.17 M49.37 262.19 L50.70 261.53 L52.69 259.54 L52.69 273.50 M62.00 272.17 L61.34 272.83 L62.00 273.50 L62.67 272.83 L62.00 272.17 M71.31 259.54 L69.32 260.20 L67.99 262.19 L67.32 265.52 L67.32 267.51 L67.99 270.84 L69.32 272.83 L71.31 273.50 L72.64 273.50 L74.64 272.83 L75.97 270.84 L76.63 267.51 L76.63 265.52 L75.97 262.19 L74.64 260.20 L72.64 259.54 L71.31 259.54 M122.12 358.60 L127.09 358.60 L124.38 362.22 L125.73 362.22 L126.64 362.67 L127.09 363.13 L127.54 364.48 L127.54 365.39 L127.09 366.74 L126.19 367.65 L124.83 368.10 L123.47 368.10 L122.12 367.65 L121.66 367.20 L121.21 366.29 M97.25 366.19 L98.58 365.53 L100.57 363.54 L100.57 377.50 M112.54 363.54 L110.55 364.20 L109.22 366.19 L108.55 369.52 L108.55 371.51 L109.22 374.84 L110.55 376.83 L112.54 377.50 L113.87 377.50 L115.87 376.83 L117.20 374.84 L117.86 371.51 L117.86 369.52 L117.20 366.19 L115.87 364.20 L113.87 363.54 L112.54 363.54 M81.99 365.86 L91.30 375.17 M91.30 365.86 L81.99 375.17 M55.35 363.54 L48.70 363.54 L48.04 369.52 L48.70 368.86 L50.70 368.19 L52.69 368.19 L54.69 368.86 L56.02 370.19 L56.68 372.18 L56.68 373.51 L56.02 375.50 L54.69 376.83 L52.69 377.50 L50.70 377.50 L48.70 376.83 L48.04 376.17 L47.37 374.84 M62.00 376.17 L61.34 376.83 L62.00 377.50 L62.67 376.83 L62.00 376.17 M71.31 363.54 L69.32 364.20 L67.99 366.19 L67.32 369.52 L67.32 371.51 L67.99 374.84 L69.32 376.83 L71.31 377.50 L72.64 377.50 L74.64 376.83 L75.97 374.84 L76.63 371.51 L76.63 369.52 L75.97 366.19 L74.64 364.20 L72.64 363.54 L71.31 363.54 M120.99 459.24 L118.99 459.90 L117.66 461.89 L117.00 465.22 L117.00 467.21 L117.66 470.54 L118.99 472.53 L120.99 473.20 L122.32 473.20 L124.31 472.53 L125.64 470.54 L126.31 467.21 L126.31 465.22 L125.64 461.89 L124.31 459.90 L122.32 459.24 L120.99 459.24 M391.35 515.47 L394.01 529.40 M392.02 515.47 L394.01 526.08 M396.66 515.47 L394.01 529.40 M396.66 515.47 L399.31 529.40 M397.32 515.47 L399.31 526.08 M401.97 515.47 L399.31 529.40 M389.36 515.47 L394.01 515.47 M399.98 515.47 L403.96 515.47 M407.94 521.44 L407.94 522.10 L407.28 522.10 L407.28 521.44 L407.94 520.78 L409.27 520.11 L411.92 520.11 L413.25 520.78 L413.91 521.44 L414.57 522.77 L414.57 527.41 L415.24 528.74 L415.90 529.40 M413.91 521.44 L413.91 527.41 L414.57 528.74 L415.90 529.40 L416.56 529.40 M413.91 522.77 L413.25 523.43 L409.27 524.09 L407.28 524.76 L406.61 526.08 L406.61 527.41 L407.28 528.74 L409.27 529.40 L411.26 529.40 L412.58 528.74 L413.91 527.41 M409.27 524.09 L407.94 524.76 L407.28 526.08 L407.28 527.41 L407.94 528.74 L409.27 529.40 M419.88 520.11 L423.86 529.40 M420.54 520.11 L423.86 528.07 M427.84 520.11 L423.86 529.40 M418.55 520.11 L422.53 520.11 M425.19 520.11 L429.17 520.11 M432.48 524.09 L440.45 524.09 L440.45 522.77 L439.78 521.44 L439.12 520.78 L437.79 520.11 L435.80 520.11 L433.81 520.78 L432.48 522.10 L431.82 524.09 L431.82 525.42 L432.48 527.41 L433.81 528.74 L435.80 529.40 L437.13 529.40 L439.12 528.74 L440.45 527.41 M439.78 524.09 L439.78 522.10 L439.12 520.78 M435.80 520.11 L434.47 520.78 L433.15 522.10 L432.48 524.09 L432.48 525.42 L433.15 527.41 L434.47 528.74 L435.80 529.40 M445.75 515.47 L445.75 529.40 M446.42 515.47 L446.42 529.40 M443.76 515.47 L446.42 515.47 M443.76 529.40 L448.41 529.40 M452.39 524.09 L460.35 524.09 L460.35 522.77 L459.68 521.44 L459.02 520.78 L457.69 520.11 L455.70 520.11 L453.71 520.78 L452.39 522.10 L451.72 524.09 L451.72 525.42 L452.39 527.41 L453.71 528.74 L455.70 529.40 L457.03 529.40 L459.02 528.74 L460.35 527.41 M459.68 524.09 L459.68 522.10 L459.02 520.78 M455.70 520.11 L454.38 520.78 L453.05 522.10 L452.39 524.09 L452.39 525.42 L453.05 527.41 L454.38 528.74 L455.70 529.40 M465.65 520.11 L465.65 529.40 M466.32 520.11 L466.32 529.40 M466.32 522.10 L467.64 520.78 L469.63 520.11 L470.96 520.11 L472.95 520.78 L473.62 522.10 L473.62 529.40 M470.96 520.11 L472.29 520.78 L472.95 522.10 L472.95 529.40 M463.66 520.11 L466.32 520.11 M463.66 529.40 L468.31 529.40 M470.96 529.40 L475.61 529.40 M482.24 520.11 L480.91 520.78 L480.25 521.44 L479.59 522.77 L479.59 524.09 L480.25 525.42 L480.91 526.08 L482.24 526.75 L483.57 526.75 L484.89 526.08 L485.56 525.42 L486.22 524.09 L486.22 522.77 L485.56 521.44 L484.89 520.78 L483.57 520.11 L482.24 520.11 M480.91 520.78 L480.25 522.10 L480.25 524.76 L480.91 526.08 M484.89 526.08 L485.56 524.76 L485.56 522.10 L484.89 520.78 M485.56 521.44 L486.22 520.78 L487.55 520.11 L487.55 520.78 L486.22 520.78 M480.25 525.42 L479.59 526.08 L478.92 527.41 L478.92 528.07 L479.59 529.40 L481.58 530.06 L484.89 530.06 L486.88 530.73 L487.55 531.39 M478.92 528.07 L479.59 528.74 L481.58 529.40 L484.89 529.40 L486.88 530.06 L487.55 531.39 L487.55 532.05 L486.88 533.38 L484.89 534.04 L480.91 534.04 L478.92 533.38 L478.26 532.05 L478.26 531.39 L478.92 530.06 L480.91 529.40 M492.85 515.47 L492.85 526.75 L493.52 528.74 L494.84 529.40 L496.17 529.40 L497.50 528.74 L498.16 527.41 M493.52 515.47 L493.52 526.75 L494.18 528.74 L494.84 529.40 M490.86 520.11 L496.17 520.11 M502.80 515.47 L502.80 529.40 M503.47 515.47 L503.47 529.40 M503.47 522.10 L504.79 520.78 L506.79 520.11 L508.11 520.11 L510.10 520.78 L510.77 522.10 L510.77 529.40 M508.11 520.11 L509.44 520.78 L510.10 522.10 L510.10 529.40 M500.81 515.47 L503.47 515.47 M500.81 529.40 L505.46 529.40 M508.11 529.40 L512.76 529.40 M531.99 512.81 L530.67 514.14 L529.34 516.13 L528.01 518.79 L527.35 522.10 L527.35 524.76 L528.01 528.07 L529.34 530.73 L530.67 532.72 L531.99 534.04 M530.67 514.14 L529.34 516.80 L528.68 518.79 L528.01 522.10 L528.01 524.76 L528.68 528.07 L529.34 530.06 L530.67 532.72 M540.00 515.54 L534.75 529.30 M540.00 515.54 L545.24 529.30 M536.72 524.71 L543.27 524.71 M547.99 512.81 L549.32 514.14 L550.64 516.13 L551.97 518.79 L552.63 522.10 L552.63 524.76 L551.97 528.07 L550.64 530.73 L549.32 532.72 L547.99 534.04 M549.32 514.14 L550.64 516.80 L551.31 518.79 L551.97 522.10 L551.97 524.76 L551.31 528.07 L550.64 530.06 L549.32 532.72 M13.76 338.10 L27.60 338.10 M13.76 337.45 L27.60 337.45 M17.72 333.49 L22.99 333.49 M13.76 340.08 L13.76 329.54 L17.72 329.54 L13.76 330.20 M20.35 337.45 L20.35 333.49 M27.60 340.08 L27.60 335.47 M13.76 324.92 L27.60 324.92 M13.76 324.27 L27.60 324.27 M13.76 326.90 L13.76 324.27 M27.60 326.90 L27.60 322.29 M18.37 317.68 L25.62 317.68 L26.94 317.02 L27.60 315.04 L27.60 313.72 L26.94 311.75 L25.62 310.43 M18.37 317.02 L25.62 317.02 L26.94 316.36 L27.60 315.04 M18.37 310.43 L27.60 310.43 M18.37 309.77 L27.60 309.77 M18.37 319.65 L18.37 317.02 M18.37 312.40 L18.37 309.77 M27.60 310.43 L27.60 307.79 M18.37 303.84 L27.60 296.59 M18.37 303.18 L27.60 295.93 M18.37 295.93 L27.60 303.84 M18.37 305.15 L18.37 301.20 M18.37 298.56 L18.37 294.61 M27.60 305.15 L27.60 301.20 M27.60 298.56 L27.60 294.61 M11.12 275.50 L12.44 276.82 L14.42 278.14 L17.06 279.45 L20.35 280.11 L22.99 280.11 L26.28 279.45 L28.92 278.14 L30.90 276.82 L32.21 275.50 M12.44 276.82 L15.08 278.14 L17.06 278.79 L20.35 279.45 L22.99 279.45 L26.28 278.79 L28.26 278.14 L30.90 276.82 M18.37 270.23 L27.60 270.23 M18.37 269.57 L27.60 269.57 M22.33 269.57 L20.35 268.91 L19.03 267.59 L18.37 266.27 L18.37 264.30 L19.03 263.64 L19.69 263.64 L20.35 264.30 L19.69 264.96 L19.03 264.30 M18.37 272.20 L18.37 269.57 M27.60 272.20 L27.60 267.59 M22.33 259.68 L22.33 251.78 L21.01 251.78 L19.69 252.43 L19.03 253.09 L18.37 254.41 L18.37 256.39 L19.03 258.37 L20.35 259.68 L22.33 260.34 L23.65 260.34 L25.62 259.68 L26.94 258.37 L27.60 256.39 L27.60 255.07 L26.94 253.09 L25.62 251.78 M22.33 252.43 L20.35 252.43 L19.03 253.09 M18.37 256.39 L19.03 257.71 L20.35 259.02 L22.33 259.68 L23.65 259.68 L25.62 259.02 L26.94 257.71 L27.60 256.39 M13.76 246.50 L27.60 246.50 M13.76 245.84 L27.60 245.84 M13.76 248.48 L13.76 245.84 M27.60 248.48 L27.60 243.87 M19.69 239.25 L20.35 239.25 L20.35 239.91 L19.69 239.91 L19.03 239.25 L18.37 237.94 L18.37 235.30 L19.03 233.98 L19.69 233.32 L21.01 232.66 L25.62 232.66 L26.94 232.01 L27.60 231.35 M19.69 233.32 L25.62 233.32 L26.94 232.66 L27.60 231.35 L27.60 230.69 M21.01 233.32 L21.67 233.98 L22.33 237.94 L22.99 239.91 L24.30 240.57 L25.62 240.57 L26.94 239.91 L27.60 237.94 L27.60 235.96 L26.94 234.64 L25.62 233.32 M22.33 237.94 L22.99 239.25 L24.30 239.91 L25.62 239.91 L26.94 239.25 L27.60 237.94 M13.76 226.07 L24.96 226.07 L26.94 225.42 L27.60 224.10 L27.60 222.78 L26.94 221.46 L25.62 220.80 M13.76 225.42 L24.96 225.42 L26.94 224.76 L27.60 224.10 M18.37 228.05 L18.37 222.78 M13.76 216.19 L14.42 216.85 L15.08 216.19 L14.42 215.53 L13.76 216.19 M18.37 216.19 L27.60 216.19 M18.37 215.53 L27.60 215.53 M18.37 218.17 L18.37 215.53 M27.60 218.17 L27.60 213.55 M18.37 210.26 L27.60 206.30 M18.37 209.60 L26.28 206.30 M18.37 202.35 L27.60 206.30 M18.37 211.58 L18.37 207.62 M18.37 204.99 L18.37 201.03 M22.33 197.74 L22.33 189.83 L21.01 189.83 L19.69 190.49 L19.03 191.15 L18.37 192.47 L18.37 194.44 L19.03 196.42 L20.35 197.74 L22.33 198.40 L23.65 198.40 L25.62 197.74 L26.94 196.42 L27.60 194.44 L27.60 193.12 L26.94 191.15 L25.62 189.83 M22.33 190.49 L20.35 190.49 L19.03 191.15 M18.37 194.44 L19.03 195.76 L20.35 197.08 L22.33 197.74 L23.65 197.74 L25.62 197.08 L26.94 195.76 L27.60 194.44 M11.12 185.88 L12.44 184.56 L14.42 183.24 L17.06 181.92 L20.35 181.26 L22.99 181.26 L26.28 181.92 L28.92 183.24 L30.90 184.56 L32.21 185.88 M12.44 184.56 L15.08 183.24 L17.06 182.58 L20.35 181.92 L22.99 181.92 L26.28 182.58 L28.26 183.24 L30.90 184.56 M147.26 544.27 L148.09 541.76 L148.09 546.77 L147.26 544.27 L145.59 542.60 L143.09 541.76 L140.58 541.76 L138.08 542.60 L136.41 544.27 L136.41 545.94 L137.24 547.61 L138.08 548.44 L139.75 549.28 L144.75 550.95 L146.43 551.78 L148.09 553.45 M136.41 545.94 L138.08 547.61 L139.75 548.44 L144.75 550.12 L146.43 550.95 L147.26 551.78 L148.09 553.45 L148.09 556.79 L146.43 558.46 L143.92 559.30 L141.41 559.30 L138.91 558.46 L137.24 556.79 L136.41 554.29 L136.41 559.30 L137.24 556.79 M158.12 541.76 L158.12 559.30 M158.95 541.76 L158.95 559.30 M153.11 541.76 L152.27 546.77 L152.27 541.76 L164.80 541.76 L164.80 546.77 L163.96 541.76 M155.61 559.30 L161.46 559.30 M174.81 541.76 L168.97 559.30 M174.81 541.76 L180.66 559.30 M174.81 544.27 L179.82 559.30 M170.64 554.29 L178.16 554.29 M167.30 559.30 L172.31 559.30 M177.32 559.30 L182.33 559.30 M187.34 541.76 L187.34 559.30 M188.18 541.76 L188.18 559.30 M184.84 541.76 L194.86 541.76 L197.36 542.60 L198.19 543.43 L199.03 545.10 L199.03 546.77 L198.19 548.44 L197.36 549.28 L194.86 550.12 L188.18 550.12 M194.86 541.76 L196.53 542.60 L197.36 543.43 L198.19 545.10 L198.19 546.77 L197.36 548.44 L196.53 549.28 L194.86 550.12 M184.84 559.30 L190.68 559.30 M192.35 550.12 L194.02 550.95 L194.86 551.78 L197.36 557.63 L198.19 558.46 L199.03 558.46 L199.87 557.63 M194.02 550.95 L194.86 552.62 L196.53 558.46 L197.36 559.30 L199.03 559.30 L199.87 557.63 L199.87 556.79 M255.81 544.27 L256.64 546.77 L256.64 541.76 L255.81 544.27 L254.14 542.60 L251.63 541.76 L249.97 541.76 L247.46 542.60 L245.79 544.27 L244.95 545.94 L244.12 548.44 L244.12 552.62 L244.95 555.12 L245.79 556.79 L247.46 558.46 L249.97 559.30 L251.63 559.30 L254.14 558.46 L255.81 556.79 M249.97 541.76 L248.30 542.60 L246.62 544.27 L245.79 545.94 L244.95 548.44 L244.95 552.62 L245.79 555.12 L246.62 556.79 L248.30 558.46 L249.97 559.30 M255.81 552.62 L255.81 559.30 M256.64 552.62 L256.64 559.30 M253.31 552.62 L259.15 552.62 M265.00 541.76 L263.32 550.12 M263.32 550.12 L265.00 548.44 L267.50 547.61 L270.00 547.61 L272.51 548.44 L274.18 550.12 L275.01 552.62 L275.01 554.29 L274.18 556.79 L272.51 558.46 L270.00 559.30 L267.50 559.30 L265.00 558.46 L264.16 557.63 L263.32 555.96 L263.32 555.12 L264.16 554.29 L265.00 555.12 L264.16 555.96 M270.00 547.61 L271.68 548.44 L273.35 550.12 L274.18 552.62 L274.18 554.29 L273.35 556.79 L271.68 558.46 L270.00 559.30 M265.00 541.76 L273.35 541.76 M265.00 542.60 L269.17 542.60 L273.35 541.76 M143.60 582.40 L143.00 583.00 L143.60 583.60 L144.20 583.00 L144.20 582.40 L143.00 581.20 L141.80 580.60 L140.00 580.60 L138.20 581.20 L137.00 582.40 L136.40 584.20 L136.40 585.40 L137.00 587.20 L138.20 588.40 L140.00 589.00 L141.20 589.00 L143.00 588.40 L144.20 587.20 M140.00 580.60 L138.80 581.20 L137.60 582.40 L137.00 584.20 L137.00 585.40 L137.60 587.20 L138.80 588.40 L140.00 589.00 M154.40 580.60 L147.80 589.00 M155.00 580.60 L148.40 589.00 M148.40 580.60 L147.80 583.00 L147.80 580.60 L155.00 580.60 M147.80 589.00 L155.00 589.00 L155.00 586.60 L154.40 589.00 M168.80 581.80 L179.60 581.80 M168.80 585.40 L179.60 585.40 M194.00 578.80 L194.60 579.40 L194.00 580.00 L193.40 579.40 L193.40 578.80 L194.00 577.60 L194.60 577.00 L196.40 576.40 L198.80 576.40 L200.60 577.00 L201.20 577.60 L201.80 578.80 L201.80 580.00 L201.20 581.20 L199.40 582.40 L196.40 583.60 L195.20 584.20 L194.00 585.40 L193.40 587.20 L193.40 589.00 M198.80 576.40 L200.00 577.00 L200.60 577.60 L201.20 578.80 L201.20 580.00 L200.60 581.20 L198.80 582.40 L196.40 583.60 M193.40 587.80 L194.00 587.20 L195.20 587.20 L198.20 588.40 L200.00 588.40 L201.20 587.80 L201.80 587.20 M195.20 587.20 L198.20 589.00 L200.60 589.00 L201.20 588.40 L201.80 587.20 L201.80 586.00 M206.60 576.40 L205.40 582.40 M205.40 582.40 L206.60 581.20 L208.40 580.60 L210.20 580.60 L212.00 581.20 L213.20 582.40 L213.80 584.20 L213.80 585.40 L213.20 587.20 L212.00 588.40 L210.20 589.00 L208.40 589.00 L206.60 588.40 L206.00 587.80 L205.40 586.60 L205.40 586.00 L206.00 585.40 L206.60 586.00 L206.00 586.60 M210.20 580.60 L211.40 581.20 L212.60 582.40 L213.20 584.20 L213.20 585.40 L212.60 587.20 L211.40 588.40 L210.20 589.00 M206.60 576.40 L212.60 576.40 M206.60 577.00 L209.60 577.00 L212.60 576.40 M218.60 587.80 L218.00 588.40 L218.60 589.00 L219.20 588.40 L218.60 587.80 M224.00 578.80 L224.60 579.40 L224.00 580.00 L223.40 579.40 L223.40 578.80 L224.00 577.60 L224.60 577.00 L226.40 576.40 L228.80 576.40 L230.60 577.00 L231.20 577.60 L231.80 578.80 L231.80 580.00 L231.20 581.20 L229.40 582.40 L226.40 583.60 L225.20 584.20 L224.00 585.40 L223.40 587.20 L223.40 589.00 M228.80 576.40 L230.00 577.00 L230.60 577.60 L231.20 578.80 L231.20 580.00 L230.60 581.20 L228.80 582.40 L226.40 583.60 M223.40 587.80 L224.00 587.20 L225.20 587.20 L228.20 588.40 L230.00 588.40 L231.20 587.80 L231.80 587.20 M225.20 587.20 L228.20 589.00 L230.60 589.00 L231.20 588.40 L231.80 587.20 L231.80 586.00 M250.44 579.31 L250.44 587.30 M246.68 583.07 L254.20 583.07 M246.68 587.30 L254.20 587.30 M269.00 578.80 L269.60 579.40 L269.00 580.00 L268.40 579.40 L268.40 578.80 L269.00 577.60 L269.60 577.00 L271.40 576.40 L273.80 576.40 L275.60 577.00 L276.20 577.60 L276.80 578.80 L276.80 580.00 L276.20 581.20 L274.40 582.40 L271.40 583.60 L270.20 584.20 L269.00 585.40 L268.40 587.20 L268.40 589.00 M273.80 576.40 L275.00 577.00 L275.60 577.60 L276.20 578.80 L276.20 580.00 L275.60 581.20 L273.80 582.40 L271.40 583.60 M268.40 587.80 L269.00 587.20 L270.20 587.20 L273.20 588.40 L275.00 588.40 L276.20 587.80 L276.80 587.20 M270.20 587.20 L273.20 589.00 L275.60 589.00 L276.20 588.40 L276.80 587.20 L276.80 586.00 M281.60 587.80 L281.00 588.40 L281.60 589.00 L282.20 588.40 L281.60 587.80 M288.20 578.80 L289.40 578.20 L291.20 576.40 L291.20 589.00 M290.60 577.00 L290.60 589.00 M288.20 589.00 L293.60 589.00 M309.20 576.40 L309.20 589.00 M309.80 576.40 L309.80 589.00 M315.80 580.60 L309.80 586.60 M312.80 584.20 L316.40 589.00 M312.20 584.20 L315.80 589.00 M307.40 576.40 L309.80 576.40 M314.00 580.60 L317.60 580.60 M307.40 589.00 L311.60 589.00 M314.00 589.00 L317.60 589.00 M321.80 580.60 L321.80 589.00 M322.40 580.60 L322.40 589.00 M322.40 582.40 L323.60 581.20 L325.40 580.60 L326.60 580.60 L328.40 581.20 L329.00 582.40 L329.00 589.00 M326.60 580.60 L327.80 581.20 L328.40 582.40 L328.40 589.00 M329.00 582.40 L330.20 581.20 L332.00 580.60 L333.20 580.60 L335.00 581.20 L335.60 582.40 L335.60 589.00 M333.20 580.60 L334.40 581.20 L335.00 582.40 L335.00 589.00 M320.00 580.60 L322.40 580.60 M320.00 589.00 L324.20 589.00 M326.60 589.00 L330.80 589.00 M333.20 589.00 L337.40 589.00 M350.60 574.00 L339.80 593.20 M359.60 581.80 L360.20 580.60 L360.20 583.00 L359.60 581.80 L359.00 581.20 L357.80 580.60 L355.40 580.60 L354.20 581.20 L353.60 581.80 L353.60 583.00 L354.20 583.60 L355.40 584.20 L358.40 585.40 L359.60 586.00 L360.20 586.60 M353.60 582.40 L354.20 583.00 L355.40 583.60 L358.40 584.80 L359.60 585.40 L360.20 586.00 L360.20 587.80 L359.60 588.40 L358.40 589.00 L356.00 589.00 L354.80 588.40 L354.20 587.80 L353.60 586.60 L353.60 589.00 L354.20 587.80 M138.18 606.48 L138.18 619.00 M138.78 606.48 L138.78 619.00 M136.39 606.48 L143.54 606.48 L145.33 607.08 L145.93 607.68 L146.52 608.87 L146.52 610.06 L145.93 611.25 L145.33 611.85 L143.54 612.44 L138.78 612.44 M143.54 606.48 L144.74 607.08 L145.33 607.68 L145.93 608.87 L145.93 610.06 L145.33 611.25 L144.74 611.85 L143.54 612.44 M136.39 619.00 L140.56 619.00 M141.76 612.44 L142.95 613.04 L143.54 613.64 L145.33 617.81 L145.93 618.40 L146.52 618.40 L147.12 617.81 M142.95 613.04 L143.54 614.23 L144.74 618.40 L145.33 619.00 L146.52 619.00 L147.12 617.81 L147.12 617.21 M154.27 606.48 L150.10 619.00 M154.27 606.48 L158.44 619.00 M154.27 608.27 L157.85 619.00 M151.29 615.42 L156.66 615.42 M148.91 619.00 L152.48 619.00 M156.06 619.00 L159.64 619.00 M172.15 611.85 L182.88 611.85 M172.15 615.42 L182.88 615.42 M198.38 608.87 L199.57 608.27 L201.36 606.48 L201.36 619.00 M200.76 607.08 L200.76 619.00 M198.38 619.00 L203.74 619.00 M209.10 608.87 L209.70 609.46 L209.10 610.06 L208.51 609.46 L208.51 608.87 L209.10 607.68 L209.70 607.08 L211.49 606.48 L213.87 606.48 L215.66 607.08 L216.26 608.27 L216.26 610.06 L215.66 611.25 L213.87 611.85 L212.08 611.85 M213.87 606.48 L215.06 607.08 L215.66 608.27 L215.66 610.06 L215.06 611.25 L213.87 611.85 M213.87 611.85 L215.06 612.44 L216.26 613.64 L216.85 614.83 L216.85 616.62 L216.26 617.81 L215.66 618.40 L213.87 619.00 L211.49 619.00 L209.70 618.40 L209.10 617.81 L208.51 616.62 L208.51 616.02 L209.10 615.42 L209.70 616.02 L209.10 616.62 M215.66 613.04 L216.26 614.83 L216.26 616.62 L215.66 617.81 L215.06 618.40 L213.87 619.00 M228.18 610.66 L227.58 612.44 L226.39 613.64 L224.60 614.23 L224.00 614.23 L222.22 613.64 L221.02 612.44 L220.43 610.66 L220.43 610.06 L221.02 608.27 L222.22 607.08 L224.00 606.48 L225.20 606.48 L226.98 607.08 L228.18 608.27 L228.77 610.06 L228.77 613.64 L228.18 616.02 L227.58 617.21 L226.39 618.40 L224.60 619.00 L222.81 619.00 L221.62 618.40 L221.02 617.21 L221.02 616.62 L221.62 616.02 L222.22 616.62 L221.62 617.21 M224.00 614.23 L222.81 613.64 L221.62 612.44 L221.02 610.66 L221.02 610.06 L221.62 608.27 L222.81 607.08 L224.00 606.48 M225.20 606.48 L226.39 607.08 L227.58 608.27 L228.18 610.06 L228.18 613.64 L227.58 616.02 L226.98 617.21 L225.79 618.40 L224.60 619.00 M233.54 617.81 L232.94 618.40 L233.54 619.00 L234.14 618.40 L233.54 617.81 M245.46 608.27 L244.86 608.87 L245.46 609.46 L246.06 608.87 L246.06 608.27 L245.46 607.08 L244.27 606.48 L242.48 606.48 L240.69 607.08 L239.50 608.27 L238.90 609.46 L238.31 611.85 L238.31 615.42 L238.90 617.21 L240.10 618.40 L241.88 619.00 L243.08 619.00 L244.86 618.40 L246.06 617.21 L246.65 615.42 L246.65 614.83 L246.06 613.04 L244.86 611.85 L243.08 611.25 L242.48 611.25 L240.69 611.85 L239.50 613.04 L238.90 614.83 M242.48 606.48 L241.29 607.08 L240.10 608.27 L239.50 609.46 L238.90 611.85 L238.90 615.42 L239.50 617.21 L240.69 618.40 L241.88 619.00 M243.08 619.00 L244.27 618.40 L245.46 617.21 L246.06 615.42 L246.06 614.83 L245.46 613.04 L244.27 611.85 L243.08 611.25 M257.38 608.27 L256.78 608.87 L257.38 609.46 L257.98 608.87 L257.98 608.27 L257.38 607.08 L256.19 606.48 L254.40 606.48 L252.61 607.08 L251.42 608.27 L250.82 609.46 L250.23 611.85 L250.23 615.42 L250.82 617.21 L252.02 618.40 L253.80 619.00 L255.00 619.00 L256.78 618.40 L257.98 617.21 L258.57 615.42 L258.57 614.83 L257.98 613.04 L256.78 611.85 L255.00 611.25 L254.40 611.25 L252.61 611.85 L251.42 613.04 L250.82 614.83 M254.40 606.48 L253.21 607.08 L252.02 608.27 L251.42 609.46 L250.82 611.85 L250.82 615.42 L251.42 617.21 L252.61 618.40 L253.80 619.00 M255.00 619.00 L256.19 618.40 L257.38 617.21 L257.98 615.42 L257.98 614.83 L257.38 613.04 L256.19 611.85 L255.00 611.25 M269.30 608.27 L268.70 608.87 L269.30 609.46 L269.90 608.87 L269.90 608.27 L269.30 607.08 L268.11 606.48 L266.32 606.48 L264.53 607.08 L263.34 608.27 L262.74 609.46 L262.15 611.85 L262.15 615.42 L262.74 617.21 L263.94 618.40 L265.72 619.00 L266.92 619.00 L268.70 618.40 L269.90 617.21 L270.49 615.42 L270.49 614.83 L269.90 613.04 L268.70 611.85 L266.92 611.25 L266.32 611.25 L264.53 611.85 L263.34 613.04 L262.74 614.83 M266.32 606.48 L265.13 607.08 L263.94 608.27 L263.34 609.46 L262.74 611.85 L262.74 615.42 L263.34 617.21 L264.53 618.40 L265.72 619.00 M266.92 619.00 L268.11 618.40 L269.30 617.21 L269.90 615.42 L269.90 614.83 L269.30 613.04 L268.11 611.85 L266.92 611.25 M281.22 608.27 L280.62 608.87 L281.22 609.46 L281.82 608.87 L281.82 608.27 L281.22 607.08 L280.03 606.48 L278.24 606.48 L276.45 607.08 L275.26 608.27 L274.66 609.46 L274.07 611.85 L274.07 615.42 L274.66 617.21 L275.86 618.40 L277.64 619.00 L278.84 619.00 L280.62 618.40 L281.82 617.21 L282.41 615.42 L282.41 614.83 L281.82 613.04 L280.62 611.85 L278.84 611.25 L278.24 611.25 L276.45 611.85 L275.26 613.04 L274.66 614.83 M278.24 606.48 L277.05 607.08 L275.86 608.27 L275.26 609.46 L274.66 611.85 L274.66 615.42 L275.26 617.21 L276.45 618.40 L277.64 619.00 M278.84 619.00 L280.03 618.40 L281.22 617.21 L281.82 615.42 L281.82 614.83 L281.22 613.04 L280.03 611.85 L278.84 611.25 M287.18 606.48 L285.99 612.44 M285.99 612.44 L287.18 611.25 L288.97 610.66 L290.76 610.66 L292.54 611.25 L293.74 612.44 L294.33 614.23 L294.33 615.42 L293.74 617.21 L292.54 618.40 L290.76 619.00 L288.97 619.00 L287.18 618.40 L286.58 617.81 L285.99 616.62 L285.99 616.02 L286.58 615.42 L287.18 616.02 L286.58 616.62 M290.76 610.66 L291.95 611.25 L293.14 612.44 L293.74 614.23 L293.74 615.42 L293.14 617.21 L291.95 618.40 L290.76 619.00 M287.18 606.48 L293.14 606.48 M287.18 607.08 L290.16 607.08 L293.14 606.48 M299.10 619.00 L298.50 618.40 L299.10 617.81 L299.70 618.40 L299.70 619.60 L299.10 620.79 L298.50 621.38 M314.60 606.48 L314.60 619.00 M315.19 606.48 L315.19 619.00 M312.81 606.48 L318.77 606.48 L320.56 607.08 L321.75 608.27 L322.34 609.46 L322.94 611.25 L322.94 614.23 L322.34 616.02 L321.75 617.21 L320.56 618.40 L318.77 619.00 L312.81 619.00 M318.77 606.48 L319.96 607.08 L321.15 608.27 L321.75 609.46 L322.34 611.25 L322.34 614.23 L321.75 616.02 L321.15 617.21 L319.96 618.40 L318.77 619.00 M327.71 606.48 L327.71 619.00 M328.30 606.48 L328.30 619.00 M331.88 610.06 L331.88 614.83 M325.92 606.48 L335.46 606.48 L335.46 610.06 L334.86 606.48 M328.30 612.44 L331.88 612.44 M325.92 619.00 L335.46 619.00 L335.46 615.42 L334.86 619.00 M347.38 608.27 L347.97 610.06 L347.97 606.48 L347.38 608.27 L346.18 607.08 L344.40 606.48 L343.20 606.48 L341.42 607.08 L340.22 608.27 L339.63 609.46 L339.03 611.25 L339.03 614.23 L339.63 616.02 L340.22 617.21 L341.42 618.40 L343.20 619.00 L344.40 619.00 L346.18 618.40 L347.38 617.21 L347.97 616.02 M343.20 606.48 L342.01 607.08 L340.82 608.27 L340.22 609.46 L339.63 611.25 L339.63 614.23 L340.22 616.02 L340.82 617.21 L342.01 618.40 L343.20 619.00 M361.68 611.85 L372.41 611.85 M361.68 615.42 L372.41 615.42 M405.78 608.87 L406.38 609.46 L405.78 610.06 L405.19 609.46 L405.19 608.87 L405.78 607.68 L406.38 607.08 L408.17 606.48 L410.55 606.48 L412.34 607.08 L412.94 608.27 L412.94 610.06 L412.34 611.25 L410.55 611.85 L408.76 611.85 M410.55 606.48 L411.74 607.08 L412.34 608.27 L412.34 610.06 L411.74 611.25 L410.55 611.85 M410.55 611.85 L411.74 612.44 L412.94 613.64 L413.53 614.83 L413.53 616.62 L412.94 617.81 L412.34 618.40 L410.55 619.00 L408.17 619.00 L406.38 618.40 L405.78 617.81 L405.19 616.62 L405.19 616.02 L405.78 615.42 L406.38 616.02 L405.78 616.62 M412.34 613.04 L412.94 614.83 L412.94 616.62 L412.34 617.81 L411.74 618.40 L410.55 619.00 M418.30 617.81 L417.70 618.40 L418.30 619.00 L418.90 618.40 L418.30 617.81 M426.05 606.48 L424.26 607.08 L423.66 608.27 L423.66 610.06 L424.26 611.25 L426.05 611.85 L428.43 611.85 L430.22 611.25 L430.82 610.06 L430.82 608.27 L430.22 607.08 L428.43 606.48 L426.05 606.48 M426.05 606.48 L424.86 607.08 L424.26 608.27 L424.26 610.06 L424.86 611.25 L426.05 611.85 M428.43 611.85 L429.62 611.25 L430.22 610.06 L430.22 608.27 L429.62 607.08 L428.43 606.48 M426.05 611.85 L424.26 612.44 L423.66 613.04 L423.07 614.23 L423.07 616.62 L423.66 617.81 L424.26 618.40 L426.05 619.00 L428.43 619.00 L430.22 618.40 L430.82 617.81 L431.41 616.62 L431.41 614.23 L430.82 613.04 L430.22 612.44 L428.43 611.85 M426.05 611.85 L424.86 612.44 L424.26 613.04 L423.66 614.23 L423.66 616.62 L424.26 617.81 L424.86 618.40 L426.05 619.00 M428.43 619.00 L429.62 618.40 L430.22 617.81 L430.82 616.62 L430.82 614.23 L430.22 613.04 L429.62 612.44 L428.43 611.85 M440.35 607.68 L440.35 619.00 M440.95 606.48 L440.95 619.00 M440.95 606.48 L434.39 615.42 L443.93 615.42 M438.56 619.00 L442.74 619.00 M447.50 608.87 L448.10 609.46 L447.50 610.06 L446.91 609.46 L446.91 608.87 L447.50 607.68 L448.10 607.08 L449.89 606.48 L452.27 606.48 L454.06 607.08 L454.66 608.27 L454.66 610.06 L454.06 611.25 L452.27 611.85 L450.48 611.85 M452.27 606.48 L453.46 607.08 L454.06 608.27 L454.06 610.06 L453.46 611.25 L452.27 611.85 M452.27 611.85 L453.46 612.44 L454.66 613.64 L455.25 614.83 L455.25 616.62 L454.66 617.81 L454.06 618.40 L452.27 619.00 L449.89 619.00 L448.10 618.40 L447.50 617.81 L446.91 616.62 L446.91 616.02 L447.50 615.42 L448.10 616.02 L447.50 616.62 M454.06 613.04 L454.66 614.83 L454.66 616.62 L454.06 617.81 L453.46 618.40 L452.27 619.00 M460.62 608.87 L461.81 608.27 L463.60 606.48 L463.60 619.00 M463.00 607.08 L463.00 619.00 M460.62 619.00 L465.98 619.00 M476.11 607.68 L476.11 619.00 M476.71 606.48 L476.71 619.00 M476.71 606.48 L470.15 615.42 L479.69 615.42 M474.32 619.00 L478.50 619.00 M610.47 541.47 L610.47 559.00 M611.31 541.47 L611.31 559.00 M607.97 541.47 L613.81 541.47 M607.97 559.00 L620.50 559.00 L620.50 553.99 L619.66 559.00 M629.68 541.47 L623.83 559.00 M629.68 541.47 L635.52 559.00 M629.68 543.97 L634.69 559.00 M625.50 553.99 L633.02 553.99 M622.16 559.00 L627.17 559.00 M632.18 559.00 L637.19 559.00 M642.20 541.47 L642.20 559.00 M643.04 541.47 L648.05 556.50 M642.20 541.47 L648.05 559.00 M653.89 541.47 L648.05 559.00 M653.89 541.47 L653.89 559.00 M654.73 541.47 L654.73 559.00 M639.70 541.47 L643.04 541.47 M653.89 541.47 L657.23 541.47 M639.70 559.00 L644.71 559.00 M651.39 559.00 L657.23 559.00 M667.25 541.47 L664.75 542.30 L663.08 543.97 L662.25 545.64 L661.41 548.98 L661.41 551.49 L662.25 554.83 L663.08 556.50 L664.75 558.16 L667.25 559.00 L668.92 559.00 L671.43 558.16 L673.10 556.50 L673.93 554.83 L674.77 551.49 L674.77 548.98 L673.93 545.64 L673.10 543.97 L671.43 542.30 L668.92 541.47 L667.25 541.47 M667.25 541.47 L665.58 542.30 L663.91 543.97 L663.08 545.64 L662.25 548.98 L662.25 551.49 L663.08 554.83 L663.91 556.50 L665.58 558.16 L667.25 559.00 M668.92 559.00 L670.59 558.16 L672.26 556.50 L673.10 554.83 L673.93 551.49 L673.93 548.98 L673.10 545.64 L672.26 543.97 L670.59 542.30 L668.92 541.47 M690.63 543.97 L691.47 541.47 L691.47 546.48 L690.63 543.97 L688.96 542.30 L686.46 541.47 L683.95 541.47 L681.45 542.30 L679.78 543.97 L679.78 545.64 L680.62 547.31 L681.45 548.14 L683.12 548.98 L688.13 550.65 L689.80 551.49 L691.47 553.15 M679.78 545.64 L681.45 547.31 L683.12 548.14 L688.13 549.82 L689.80 550.65 L690.63 551.49 L691.47 553.15 L691.47 556.50 L689.80 558.16 L687.29 559.00 L684.79 559.00 L682.28 558.16 L680.62 556.50 L679.78 553.99 L679.78 559.00 L680.62 556.50 M701.49 541.47 L701.49 559.00 M702.32 541.47 L702.32 559.00 M696.48 541.47 L695.64 546.48 L695.64 541.47 L708.17 541.47 L708.17 546.48 L707.33 541.47 M698.98 559.00 L704.83 559.00 M727.38 541.47 L727.38 559.00 M728.21 541.47 L728.21 559.00 M724.87 541.47 L733.22 541.47 L735.72 542.30 L737.39 543.97 L738.23 545.64 L739.06 548.14 L739.06 552.32 L738.23 554.83 L737.39 556.50 L735.72 558.16 L733.22 559.00 L724.87 559.00 M733.22 541.47 L734.89 542.30 L736.56 543.97 L737.39 545.64 L738.23 548.14 L738.23 552.32 L737.39 554.83 L736.56 556.50 L734.89 558.16 L733.22 559.00 M745.74 541.47 L745.74 559.00 M746.58 541.47 L746.58 559.00 M743.24 541.47 L753.26 541.47 L755.76 542.30 L756.60 543.13 L757.43 544.80 L757.43 546.48 L756.60 548.14 L755.76 548.98 L753.26 549.82 L746.58 549.82 M753.26 541.47 L754.93 542.30 L755.76 543.13 L756.60 544.80 L756.60 546.48 L755.76 548.14 L754.93 548.98 L753.26 549.82 M743.24 559.00 L749.08 559.00 M750.75 549.82 L752.42 550.65 L753.26 551.49 L755.76 557.33 L756.60 558.16 L757.43 558.16 L758.27 557.33 M752.42 550.65 L753.26 552.32 L754.93 558.16 L755.76 559.00 L757.43 559.00 L758.27 557.33 L758.27 556.50 M763.28 544.80 L764.12 545.64 L763.28 546.48 L762.44 545.64 L762.44 544.80 L763.28 543.13 L764.12 542.30 L766.62 541.47 L769.96 541.47 L772.46 542.30 L773.30 543.97 L773.30 546.48 L772.46 548.14 L769.96 548.98 L767.45 548.98 M769.96 541.47 L771.63 542.30 L772.46 543.97 L772.46 546.48 L771.63 548.14 L769.96 548.98 M769.96 548.98 L771.63 549.82 L773.30 551.49 L774.13 553.15 L774.13 555.66 L773.30 557.33 L772.46 558.16 L769.96 559.00 L766.62 559.00 L764.12 558.16 L763.28 557.33 L762.44 555.66 L762.44 554.83 L763.28 553.99 L764.12 554.83 L763.28 555.66 M772.46 550.65 L773.30 553.15 L773.30 555.66 L772.46 557.33 L771.63 558.16 L769.96 559.00 M612.21 576.38 L610.41 576.98 L609.21 578.18 L608.60 579.38 L608.00 581.79 L608.00 583.59 L608.60 586.00 L609.21 587.20 L610.41 588.40 L612.21 589.00 L613.41 589.00 L615.22 588.40 L616.42 587.20 L617.02 586.00 L617.62 583.59 L617.62 581.79 L617.02 579.38 L616.42 578.18 L615.22 576.98 L613.41 576.38 L612.21 576.38 M612.21 576.38 L611.01 576.98 L609.81 578.18 L609.21 579.38 L608.60 581.79 L608.60 583.59 L609.21 586.00 L609.81 587.20 L611.01 588.40 L612.21 589.00 M613.41 589.00 L614.61 588.40 L615.82 587.20 L616.42 586.00 L617.02 583.59 L617.02 581.79 L616.42 579.38 L615.82 578.18 L614.61 576.98 L613.41 576.38 M622.43 576.38 L622.43 589.00 M623.03 576.38 L623.03 589.00 M623.03 582.39 L624.23 581.19 L625.43 580.59 L626.63 580.59 L628.44 581.19 L629.64 582.39 L630.24 584.19 L630.24 585.39 L629.64 587.20 L628.44 588.40 L626.63 589.00 L625.43 589.00 L624.23 588.40 L623.03 587.20 M626.63 580.59 L627.84 581.19 L629.04 582.39 L629.64 584.19 L629.64 585.39 L629.04 587.20 L627.84 588.40 L626.63 589.00 M620.62 576.38 L623.03 576.38 M639.86 581.79 L640.46 580.59 L640.46 582.99 L639.86 581.79 L639.25 581.19 L638.05 580.59 L635.65 580.59 L634.45 581.19 L633.85 581.79 L633.85 582.99 L634.45 583.59 L635.65 584.19 L638.65 585.39 L639.86 586.00 L640.46 586.60 M633.85 582.39 L634.45 582.99 L635.65 583.59 L638.65 584.79 L639.86 585.39 L640.46 586.00 L640.46 587.80 L639.86 588.40 L638.65 589.00 L636.25 589.00 L635.05 588.40 L634.45 587.80 L633.85 586.60 L633.85 589.00 L634.45 587.80 M644.66 583.59 L655.48 583.59 M660.89 576.38 L660.89 589.00 M661.49 576.38 L661.49 589.00 M659.09 576.38 L665.10 576.38 L666.90 576.98 L668.10 578.18 L668.70 579.38 L669.31 581.19 L669.31 584.19 L668.70 586.00 L668.10 587.20 L666.90 588.40 L665.10 589.00 L659.09 589.00 M665.10 576.38 L666.30 576.98 L667.50 578.18 L668.10 579.38 L668.70 581.19 L668.70 584.19 L668.10 586.00 L667.50 587.20 L666.30 588.40 L665.10 589.00 M674.11 581.79 L674.11 582.39 L673.51 582.39 L673.51 581.79 L674.11 581.19 L675.32 580.59 L677.72 580.59 L678.92 581.19 L679.52 581.79 L680.12 582.99 L680.12 587.20 L680.72 588.40 L681.33 589.00 M679.52 581.79 L679.52 587.20 L680.12 588.40 L681.33 589.00 L681.93 589.00 M679.52 582.99 L678.92 583.59 L675.32 584.19 L673.51 584.79 L672.91 586.00 L672.91 587.20 L673.51 588.40 L675.32 589.00 L677.12 589.00 L678.32 588.40 L679.52 587.20 M675.32 584.19 L674.11 584.79 L673.51 586.00 L673.51 587.20 L674.11 588.40 L675.32 589.00 M686.13 576.38 L686.13 586.60 L686.73 588.40 L687.94 589.00 L689.14 589.00 L690.34 588.40 L690.94 587.20 M686.73 576.38 L686.73 586.60 L687.34 588.40 L687.94 589.00 M684.33 580.59 L689.14 580.59 M694.55 584.19 L701.76 584.19 L701.76 582.99 L701.16 581.79 L700.56 581.19 L699.36 580.59 L697.55 580.59 L695.75 581.19 L694.55 582.39 L693.95 584.19 L693.95 585.39 L694.55 587.20 L695.75 588.40 L697.55 589.00 L698.75 589.00 L700.56 588.40 L701.76 587.20 M701.16 584.19 L701.16 582.39 L700.56 581.19 M697.55 580.59 L696.35 581.19 L695.15 582.39 L694.55 584.19 L694.55 585.39 L695.15 587.20 L696.35 588.40 L697.55 589.00 M706.57 580.59 L705.97 581.19 L706.57 581.79 L707.17 581.19 L706.57 580.59 M706.57 587.80 L705.97 588.40 L706.57 589.00 L707.17 588.40 L706.57 587.80 M721.59 578.78 L722.19 579.38 L721.59 579.99 L720.99 579.38 L720.99 578.78 L721.59 577.58 L722.19 576.98 L724.00 576.38 L726.40 576.38 L728.20 576.98 L728.80 577.58 L729.41 578.78 L729.41 579.99 L728.80 581.19 L727.00 582.39 L724.00 583.59 L722.79 584.19 L721.59 585.39 L720.99 587.20 L720.99 589.00 M726.40 576.38 L727.60 576.98 L728.20 577.58 L728.80 578.78 L728.80 579.99 L728.20 581.19 L726.40 582.39 L724.00 583.59 M720.99 587.80 L721.59 587.20 L722.79 587.20 L725.80 588.40 L727.60 588.40 L728.80 587.80 L729.41 587.20 M722.79 587.20 L725.80 589.00 L728.20 589.00 L728.80 588.40 L729.41 587.20 L729.41 586.00 M736.62 576.38 L734.81 576.98 L733.61 578.78 L733.01 581.79 L733.01 583.59 L733.61 586.60 L734.81 588.40 L736.62 589.00 L737.82 589.00 L739.62 588.40 L740.82 586.60 L741.43 583.59 L741.43 581.79 L740.82 578.78 L739.62 576.98 L737.82 576.38 L736.62 576.38 M736.62 576.38 L735.42 576.98 L734.81 577.58 L734.21 578.78 L733.61 581.79 L733.61 583.59 L734.21 586.60 L734.81 587.80 L735.42 588.40 L736.62 589.00 M737.82 589.00 L739.02 588.40 L739.62 587.80 L740.22 586.60 L740.82 583.59 L740.82 581.79 L740.22 578.78 L739.62 577.58 L739.02 576.98 L737.82 576.38 M746.83 578.78 L748.04 578.18 L749.84 576.38 L749.84 589.00 M749.24 576.98 L749.24 589.00 M746.83 589.00 L752.24 589.00 M758.25 576.38 L757.05 582.39 M757.05 582.39 L758.25 581.19 L760.06 580.59 L761.86 580.59 L763.66 581.19 L764.86 582.39 L765.47 584.19 L765.47 585.39 L764.86 587.20 L763.66 588.40 L761.86 589.00 L760.06 589.00 L758.25 588.40 L757.65 587.80 L757.05 586.60 L757.05 586.00 L757.65 585.39 L758.25 586.00 L757.65 586.60 M761.86 580.59 L763.06 581.19 L764.26 582.39 L764.86 584.19 L764.86 585.39 L764.26 587.20 L763.06 588.40 L761.86 589.00 M758.25 576.38 L764.26 576.38 M758.25 576.98 L761.26 576.98 L764.26 576.38 M772.68 576.38 L770.87 576.98 L769.67 578.78 L769.07 581.79 L769.07 583.59 L769.67 586.60 L770.87 588.40 L772.68 589.00 L773.88 589.00 L775.68 588.40 L776.88 586.60 L777.49 583.59 L777.49 581.79 L776.88 578.78 L775.68 576.98 L773.88 576.38 L772.68 576.38 M772.68 576.38 L771.48 576.98 L770.87 577.58 L770.27 578.78 L769.67 581.79 L769.67 583.59 L770.27 586.60 L770.87 587.80 L771.48 588.40 L772.68 589.00 M773.88 589.00 L775.08 588.40 L775.68 587.80 L776.28 586.60 L776.88 583.59 L776.88 581.79 L776.28 578.78 L775.68 577.58 L775.08 576.98 L773.88 576.38 M781.69 578.78 L782.29 579.38 L781.69 579.99 L781.09 579.38 L781.09 578.78 L781.69 577.58 L782.29 576.98 L784.10 576.38 L786.50 576.38 L788.30 576.98 L788.90 577.58 L789.51 578.78 L789.51 579.99 L788.90 581.19 L787.10 582.39 L784.10 583.59 L782.89 584.19 L781.69 585.39 L781.09 587.20 L781.09 589.00 M786.50 576.38 L787.70 576.98 L788.30 577.58 L788.90 578.78 L788.90 579.99 L788.30 581.19 L786.50 582.39 L784.10 583.59 M781.09 587.80 L781.69 587.20 L782.89 587.20 L785.90 588.40 L787.70 588.40 L788.90 587.80 L789.51 587.20 M782.89 587.20 L785.90 589.00 L788.30 589.00 L788.90 588.40 L789.51 587.20 L789.51 586.00 M796.72 576.38 L794.91 576.98 L793.71 578.78 L793.11 581.79 L793.11 583.59 L793.71 586.60 L794.91 588.40 L796.72 589.00 L797.92 589.00 L799.72 588.40 L800.92 586.60 L801.53 583.59 L801.53 581.79 L800.92 578.78 L799.72 576.98 L797.92 576.38 L796.72 576.38 M796.72 576.38 L795.52 576.98 L794.91 577.58 L794.31 578.78 L793.71 581.79 L793.71 583.59 L794.31 586.60 L794.91 587.80 L795.52 588.40 L796.72 589.00 M797.92 589.00 L799.12 588.40 L799.72 587.80 L800.32 586.60 L800.92 583.59 L800.92 581.79 L800.32 578.78 L799.72 577.58 L799.12 576.98 L797.92 576.38 M806.93 578.78 L808.14 578.18 L809.94 576.38 L809.94 589.00 M809.34 576.98 L809.34 589.00 M806.93 589.00 L812.34 589.00" stroke="#000" stroke-width="1.5" fill="none" stroke-linecap="butt" stroke-linejoin="round" shape-rendering="crispEdges"/>
<circle cx="540" cy="512" r="1.25" fill="#000" stroke="#000" stroke-width="0.9"/>
<g fill="#000"><rect x="766.40" y="30.21" width="2.54" height="2.54"/><rect x="60.97" y="63.80" width="2.06" height="2.06"/><rect x="60.97" y="167.80" width="2.06" height="2.06"/><rect x="60.97" y="271.80" width="2.06" height="2.06"/><rect x="60.97" y="375.80" width="2.06" height="2.06"/><rect x="217.65" y="587.45" width="1.90" height="1.90"/><rect x="280.65" y="587.45" width="1.90" height="1.90"/><rect x="232.59" y="617.45" width="1.90" height="1.90"/><rect x="298.15" y="617.45" width="1.90" height="1.90"/><rect x="417.35" y="617.45" width="1.90" height="1.90"/><rect x="705.62" y="580.24" width="1.90" height="1.90"/><rect x="705.62" y="587.45" width="1.90" height="1.90"/></g>
<path d="M311.59 86.03 L311.59 95.80 M312.06 86.03 L314.85 94.41 M311.59 86.03 L314.85 95.80 M318.10 86.03 L314.85 95.80 M318.10 86.03 L318.10 95.80 M318.57 86.03 L318.57 95.80 M310.20 86.03 L312.06 86.03 M318.10 86.03 L319.96 86.03 M310.20 95.80 L312.99 95.80 M316.71 95.80 L319.96 95.80 M324.62 89.29 L323.69 89.75 L323.22 90.22 L322.75 91.15 L322.75 92.08 L323.22 93.01 L323.69 93.47 L324.62 93.94 L325.54 93.94 L326.47 93.47 L326.94 93.01 L327.40 92.08 L327.40 91.15 L326.94 90.22 L326.47 89.75 L325.54 89.29 L324.62 89.29 M323.69 89.75 L323.22 90.69 L323.22 92.55 L323.69 93.47 M326.47 93.47 L326.94 92.55 L326.94 90.69 L326.47 89.75 M326.94 90.22 L327.40 89.75 L328.33 89.29 L328.33 89.75 L327.40 89.75 M323.22 93.01 L322.75 93.47 L322.29 94.41 L322.29 94.87 L322.75 95.80 L324.15 96.27 L326.47 96.27 L327.87 96.73 L328.33 97.19 M322.29 94.87 L322.75 95.33 L324.15 95.80 L326.47 95.80 L327.87 96.27 L328.33 97.19 L328.33 97.66 L327.87 98.59 L326.47 99.05 L323.69 99.05 L322.29 98.59 L321.82 97.66 L321.82 97.19 L322.29 96.27 L323.69 95.80 M401.83 68.94 L401.83 78.70 M402.29 68.94 L407.87 77.77 M402.29 69.87 L407.87 78.70 M407.87 68.94 L407.87 78.70 M400.43 68.94 L402.29 68.94 M406.48 68.94 L409.27 68.94 M400.43 78.70 L403.22 78.70 M412.52 73.12 L412.52 73.59 L412.06 73.59 L412.06 73.12 L412.52 72.66 L413.45 72.19 L415.31 72.19 L416.24 72.66 L416.71 73.12 L417.17 74.05 L417.17 77.31 L417.64 78.23 L418.10 78.70 M416.71 73.12 L416.71 77.31 L417.17 78.23 L418.10 78.70 L418.57 78.70 M416.71 74.05 L416.24 74.52 L413.45 74.98 L412.06 75.45 L411.59 76.38 L411.59 77.31 L412.06 78.23 L413.45 78.70 L414.85 78.70 L415.78 78.23 L416.71 77.31 M413.45 74.98 L412.52 75.45 L412.06 76.38 L412.06 77.31 L412.52 78.23 L413.45 78.70 M733.66 53.23 L734.12 54.62 L734.12 51.84 L733.66 53.23 L732.73 52.30 L731.33 51.84 L730.40 51.84 L729.01 52.30 L728.08 53.23 L727.61 54.16 L727.15 55.55 L727.15 57.88 L727.61 59.27 L728.08 60.20 L729.01 61.13 L730.40 61.60 L731.33 61.60 L732.73 61.13 L733.66 60.20 L734.12 59.27 M730.40 51.84 L729.47 52.30 L728.54 53.23 L728.08 54.16 L727.61 55.55 L727.61 57.88 L728.08 59.27 L728.54 60.20 L729.47 61.13 L730.40 61.60 M737.84 56.02 L737.84 56.48 L737.38 56.48 L737.38 56.02 L737.84 55.55 L738.77 55.09 L740.63 55.09 L741.56 55.55 L742.03 56.02 L742.49 56.95 L742.49 60.20 L742.96 61.13 L743.42 61.60 M742.03 56.02 L742.03 60.20 L742.49 61.13 L743.42 61.60 L743.89 61.60 M742.03 56.95 L741.56 57.41 L738.77 57.88 L737.38 58.34 L736.91 59.27 L736.91 60.20 L737.38 61.13 L738.77 61.60 L740.17 61.60 L741.10 61.13 L742.03 60.20 M738.77 57.88 L737.84 58.34 L737.38 59.27 L737.38 60.20 L737.84 61.13 L738.77 61.60 M747.14 51.84 L747.14 61.60 M747.61 51.84 L747.61 61.60 M745.75 51.84 L749.00 51.84 M745.75 61.60 L749.00 61.60 M752.26 51.84 L752.26 61.60 M752.72 51.84 L752.72 61.60 M750.86 51.84 L754.12 51.84 M750.86 61.60 L754.12 61.60 M748.66 87.43 L749.12 88.83 L749.12 86.03 L748.66 87.43 L747.73 86.50 L746.33 86.03 L745.40 86.03 L744.01 86.50 L743.08 87.43 L742.61 88.36 L742.15 89.75 L742.15 92.08 L742.61 93.47 L743.08 94.41 L744.01 95.33 L745.40 95.80 L746.33 95.80 L747.73 95.33 L748.66 94.41 L749.12 93.47 M745.40 86.03 L744.47 86.50 L743.54 87.43 L743.08 88.36 L742.61 89.75 L742.61 92.08 L743.08 93.47 L743.54 94.41 L744.47 95.33 L745.40 95.80 M752.84 90.22 L752.84 90.69 L752.38 90.69 L752.38 90.22 L752.84 89.75 L753.77 89.29 L755.63 89.29 L756.56 89.75 L757.03 90.22 L757.49 91.15 L757.49 94.41 L757.96 95.33 L758.42 95.80 M757.03 90.22 L757.03 94.41 L757.49 95.33 L758.42 95.80 L758.89 95.80 M757.03 91.15 L756.56 91.61 L753.77 92.08 L752.38 92.55 L751.91 93.47 L751.91 94.41 L752.38 95.33 L753.77 95.80 L755.17 95.80 L756.10 95.33 L757.03 94.41 M753.77 92.08 L752.84 92.55 L752.38 93.47 L752.38 94.41 L752.84 95.33 L753.77 95.80 M762.14 86.03 L762.14 95.80 M762.61 86.03 L762.61 95.80 M760.75 86.03 L764.00 86.03 M760.75 95.80 L764.00 95.80 M767.26 86.03 L767.26 95.80 M767.72 86.03 L767.72 95.80 M765.86 86.03 L769.12 86.03 M765.86 95.80 L769.12 95.80" stroke="#000" stroke-width="1.5" fill="none" stroke-linecap="butt" stroke-linejoin="round" shape-rendering="crispEdges"/>
<path d="M132.92 86.03 L131.53 86.50 L130.59 87.43 L130.13 88.36 L129.67 90.22 L129.67 91.61 L130.13 93.47 L130.59 94.41 L131.53 95.33 L132.92 95.80 L133.85 95.80 L135.25 95.33 L136.18 94.41 L136.64 93.47 L137.11 91.61 L137.11 90.22 L136.64 88.36 L136.18 87.43 L135.25 86.50 L133.85 86.03 L132.92 86.03 M132.92 86.03 L131.99 86.50 L131.06 87.43 L130.59 88.36 L130.13 90.22 L130.13 91.61 L130.59 93.47 L131.06 94.41 L131.99 95.33 L132.92 95.80 M133.85 95.80 L134.78 95.33 L135.71 94.41 L136.18 93.47 L136.64 91.61 L136.64 90.22 L136.18 88.36 L135.71 87.43 L134.78 86.50 L133.85 86.03 M140.83 86.03 L140.83 95.80 M141.29 86.03 L141.29 95.80 M139.43 86.03 L142.69 86.03 M139.43 95.80 L142.69 95.80 M145.94 86.03 L145.94 95.80 M146.41 86.03 L146.41 95.80 M144.55 86.03 L147.80 86.03 M144.55 95.80 L147.80 95.80 M132.92 68.94 L131.53 69.40 L130.59 70.33 L130.13 71.26 L129.67 73.12 L129.67 74.52 L130.13 76.38 L130.59 77.31 L131.53 78.23 L132.92 78.70 L133.85 78.70 L135.25 78.23 L136.18 77.31 L136.64 76.38 L137.11 74.52 L137.11 73.12 L136.64 71.26 L136.18 70.33 L135.25 69.40 L133.85 68.94 L132.92 68.94 M132.92 68.94 L131.99 69.40 L131.06 70.33 L130.59 71.26 L130.13 73.12 L130.13 74.52 L130.59 76.38 L131.06 77.31 L131.99 78.23 L132.92 78.70 M133.85 78.70 L134.78 78.23 L135.71 77.31 L136.18 76.38 L136.64 74.52 L136.64 73.12 L136.18 71.26 L135.71 70.33 L134.78 69.40 L133.85 68.94 M140.83 68.94 L140.83 78.70 M141.29 68.94 L141.29 78.70 M139.43 68.94 L142.69 68.94 M139.43 78.70 L142.69 78.70 M145.94 68.94 L145.94 78.70 M146.41 68.94 L146.41 78.70 M144.55 68.94 L147.80 68.94 M144.55 78.70 L147.80 78.70 M139.83 51.84 L139.83 61.60 M140.29 51.84 L140.29 61.60 M145.87 51.84 L145.87 61.60 M146.34 51.84 L146.34 61.60 M138.43 51.84 L141.69 51.84 M144.48 51.84 L147.73 51.84 M140.29 56.48 L145.87 56.48 M138.43 61.60 L141.69 61.60 M144.48 61.60 L147.73 61.60 M153.78 51.84 L152.38 52.30 L151.45 53.70 L150.99 54.62 L150.52 56.02 L150.06 58.34 L150.06 60.20 L150.52 61.13 L151.45 61.60 L152.38 61.60 L153.78 61.13 L154.71 59.74 L155.17 58.81 L155.64 57.41 L156.10 55.09 L156.10 53.23 L155.64 52.30 L154.71 51.84 L153.78 51.84 M153.78 51.84 L152.85 52.30 L151.92 53.70 L151.45 54.62 L150.99 56.02 L150.52 58.34 L150.52 60.20 L150.99 61.13 L151.45 61.60 M152.38 61.60 L153.31 61.13 L154.24 59.74 L154.71 58.81 L155.17 57.41 L155.64 55.09 L155.64 53.23 L155.17 52.30 L154.71 51.84 M150.99 56.48 L155.17 56.48 M144.13 86.03 L144.13 95.80 M144.59 86.03 L144.59 95.80 M150.18 86.03 L150.18 95.80 M150.64 86.03 L150.64 95.80 M142.74 86.03 L145.99 86.03 M148.78 86.03 L152.03 86.03 M144.59 90.69 L150.18 90.69 M142.74 95.80 L145.99 95.80 M148.78 95.80 L152.03 95.80 M153.43 91.15 L153.90 90.22 L154.83 89.29 L156.22 89.29 L156.69 89.75 L156.69 90.69 L156.22 92.55 L155.29 95.80 M155.75 89.29 L156.22 89.75 L156.22 90.69 L155.75 92.55 L154.83 95.80 M156.22 92.55 L157.15 90.69 L158.08 89.75 L159.01 89.29 L159.94 89.29 L160.87 89.75 L161.34 90.22 L161.34 91.61 L160.87 93.94 L159.48 99.05 M159.94 89.29 L160.87 90.22 L160.87 91.61 L160.41 93.94 L159.01 99.05 M148.27 68.94 L148.27 78.70 M148.73 68.94 L148.73 78.70 M154.31 68.94 L154.31 78.70 M154.78 68.94 L154.78 78.70 M146.88 68.94 L150.13 68.94 M152.92 68.94 L156.17 68.94 M148.73 73.59 L154.31 73.59 M146.88 78.70 L150.13 78.70 M152.92 78.70 L156.17 78.70 M158.97 74.98 L164.54 74.98 L164.54 74.05 L164.08 73.12 L163.62 72.66 L162.69 72.19 L161.29 72.19 L159.89 72.66 L158.97 73.59 L158.50 74.98 L158.50 75.91 L158.97 77.31 L159.89 78.23 L161.29 78.70 L162.22 78.70 L163.62 78.23 L164.54 77.31 M164.08 74.98 L164.08 73.59 L163.62 72.66 M161.29 72.19 L160.36 72.66 L159.43 73.59 L158.97 74.98 L158.97 75.91 L159.43 77.31 L160.36 78.23 L161.29 78.70 M168.26 68.94 L168.26 78.70 M168.73 68.94 L168.73 78.70 M166.87 68.94 L170.12 68.94 M166.87 78.70 L170.12 78.70 M161.71 51.84 L161.71 61.60 M162.17 51.84 L162.17 61.60 M168.22 51.84 L162.17 57.88 M164.50 56.02 L168.22 61.60 M164.03 56.02 L167.75 61.60 M160.31 51.84 L163.57 51.84 M166.36 51.84 L169.15 51.84 M160.31 61.60 L163.57 61.60 M166.36 61.60 L169.15 61.60 M165.24 86.03 L165.24 95.80 M165.71 86.03 L165.71 95.80 M171.29 86.03 L171.29 95.80 M171.75 86.03 L171.75 95.80 M163.85 86.03 L167.10 86.03 M169.89 86.03 L173.15 86.03 M165.71 90.69 L171.29 90.69 M163.85 95.80 L167.10 95.80 M169.89 95.80 L173.15 95.80 M179.18 70.33 L179.64 68.94 L179.64 71.73 L179.18 70.33 L178.25 69.40 L176.85 68.94 L175.46 68.94 L174.06 69.40 L173.13 70.33 L173.13 71.26 L173.60 72.19 L174.06 72.66 L174.99 73.12 L177.78 74.05 L178.71 74.52 L179.64 75.45 M173.13 71.26 L174.06 72.19 L174.99 72.66 L177.78 73.59 L178.71 74.05 L179.18 74.52 L179.64 75.45 L179.64 77.31 L178.71 78.23 L177.32 78.70 L175.92 78.70 L174.53 78.23 L173.60 77.31 L173.13 75.91 L173.13 78.70 L173.60 77.31 M183.36 68.94 L183.36 78.70 M183.83 68.94 L183.83 78.70 M181.97 68.94 L185.22 68.94 M181.97 78.70 L185.22 78.70 M188.48 68.94 L188.48 78.70 M188.94 68.94 L188.94 78.70 M187.08 68.94 L190.34 68.94 M187.08 78.70 L190.34 78.70 M177.83 51.84 L177.83 61.60 M178.29 51.84 L178.29 61.60 M183.87 51.84 L183.87 61.60 M184.34 51.84 L184.34 61.60 M176.43 51.84 L179.69 51.84 M182.48 51.84 L185.73 51.84 M178.29 56.48 L183.87 56.48 M176.43 61.60 L179.69 61.60 M182.48 61.60 L185.73 61.60 M192.71 55.55 L191.78 55.09 L190.85 55.09 L189.45 55.55 L188.52 56.95 L188.06 58.34 L188.06 59.74 L188.52 60.67 L188.99 61.13 L189.92 61.60 L190.85 61.60 L192.24 61.13 L193.17 59.74 L193.64 58.34 L193.64 56.95 L193.17 56.02 L191.31 53.70 L190.85 52.77 L190.85 51.84 L191.31 51.37 L192.24 51.37 L193.17 51.84 L194.10 52.77 M190.85 55.09 L189.92 55.55 L188.99 56.95 L188.52 58.34 L188.52 60.20 L188.99 61.13 M190.85 61.60 L191.78 61.13 L192.71 59.74 L193.17 58.34 L193.17 56.48 L192.71 55.55 L191.78 54.16 L191.31 53.23 L191.31 52.30 L191.78 51.84 L192.71 51.84 L194.10 52.77 M213.06 87.43 L213.52 88.83 L213.52 86.03 L213.06 87.43 L212.13 86.50 L210.73 86.03 L209.80 86.03 L208.41 86.50 L207.48 87.43 L207.01 88.36 L206.55 89.75 L206.55 92.08 L207.01 93.47 L207.48 94.41 L208.41 95.33 L209.80 95.80 L210.73 95.80 L212.13 95.33 L213.06 94.41 M209.80 86.03 L208.87 86.50 L207.94 87.43 L207.48 88.36 L207.01 89.75 L207.01 92.08 L207.48 93.47 L207.94 94.41 L208.87 95.33 L209.80 95.80 M213.06 92.08 L213.06 95.80 M213.52 92.08 L213.52 95.80 M211.66 92.08 L214.92 92.08 M207.59 68.94 L207.59 78.70 M208.06 68.94 L208.06 78.70 M213.64 68.94 L213.64 78.70 M214.11 68.94 L214.11 78.70 M206.20 68.94 L209.46 68.94 M212.25 68.94 L215.50 68.94 M208.06 73.59 L213.64 73.59 M206.20 78.70 L209.46 78.70 M212.25 78.70 L215.50 78.70 M216.90 73.59 L217.83 72.66 L218.76 72.19 L219.69 72.19 L220.62 72.66 L221.08 73.12 L221.55 74.52 L221.55 76.38 L221.08 78.23 L219.69 81.95 M217.36 73.12 L218.29 72.66 L220.15 72.66 L221.08 73.12 M224.80 72.19 L224.34 73.59 L223.87 74.52 L221.55 77.77 L220.15 80.09 L219.22 81.95 M224.34 72.19 L223.87 73.59 L223.41 74.52 L221.55 77.77 M210.36 51.84 L208.97 52.30 L208.04 53.23 L207.57 54.16 L207.11 56.02 L207.11 57.41 L207.57 59.27 L208.04 60.20 L208.97 61.13 L210.36 61.60 L211.29 61.60 L212.69 61.13 L213.62 60.20 L214.08 59.27 L214.55 57.41 L214.55 56.02 L214.08 54.16 L213.62 53.23 L212.69 52.30 L211.29 51.84 L210.36 51.84 M210.36 51.84 L209.43 52.30 L208.50 53.23 L208.04 54.16 L207.57 56.02 L207.57 57.41 L208.04 59.27 L208.50 60.20 L209.43 61.13 L210.36 61.60 M211.29 61.60 L212.22 61.13 L213.15 60.20 L213.62 59.27 L214.08 57.41 L214.08 56.02 L213.62 54.16 L213.15 53.23 L212.22 52.30 L211.29 51.84 M218.27 51.84 L218.27 61.60 M218.73 51.84 L218.73 61.60 M216.87 51.84 L220.13 51.84 M216.87 61.60 L220.13 61.60 M223.38 51.84 L223.38 61.60 M223.85 51.84 L223.85 61.60 M221.99 51.84 L225.24 51.84 M221.99 61.60 L225.24 61.60 M228.50 51.84 L228.50 61.60 M228.96 51.84 L228.96 61.60 M227.10 51.84 L230.36 51.84 M227.10 61.60 L230.36 61.60 M272.36 86.03 L272.36 95.80 M272.83 86.03 L272.83 95.80 M278.41 86.03 L278.41 95.80 M278.87 86.03 L278.87 95.80 M270.97 86.03 L274.22 86.03 M277.01 86.03 L280.27 86.03 M272.83 90.69 L278.41 90.69 M270.97 95.80 L274.22 95.80 M277.01 95.80 L280.27 95.80 M287.24 86.03 L285.85 86.50 L284.92 87.43 L283.99 89.29 L283.52 90.69 L283.06 92.55 L282.59 95.33 L282.13 99.05 M287.24 86.03 L286.31 86.50 L285.38 87.43 L284.45 89.29 L283.99 90.69 L283.52 92.55 L283.06 95.33 L282.59 99.05 M287.24 86.03 L288.17 86.03 L289.10 86.50 L289.57 86.97 L289.57 88.36 L289.10 89.29 L288.64 89.75 L287.24 90.22 L285.38 90.22 M288.17 86.03 L289.10 86.97 L289.10 88.36 L288.64 89.29 L288.17 89.75 L287.24 90.22 M285.38 90.22 L287.24 90.69 L288.17 91.61 L288.64 92.55 L288.64 93.94 L288.17 94.87 L287.71 95.33 L286.31 95.80 L285.38 95.80 L284.45 95.33 L283.99 94.87 L283.52 93.47 M285.38 90.22 L286.78 90.69 L287.71 91.61 L288.17 92.55 L288.17 93.94 L287.71 94.87 L287.24 95.33 L286.31 95.80 M284.36 68.94 L282.97 69.40 L282.04 70.33 L281.57 71.26 L281.11 73.12 L281.11 74.52 L281.57 76.38 L282.04 77.31 L282.97 78.23 L284.36 78.70 L285.29 78.70 L286.69 78.23 L287.62 77.31 L288.08 76.38 L288.55 74.52 L288.55 73.12 L288.08 71.26 L287.62 70.33 L286.69 69.40 L285.29 68.94 L284.36 68.94 M284.36 68.94 L283.43 69.40 L282.50 70.33 L282.04 71.26 L281.57 73.12 L281.57 74.52 L282.04 76.38 L282.50 77.31 L283.43 78.23 L284.36 78.70 M285.29 78.70 L286.22 78.23 L287.15 77.31 L287.62 76.38 L288.08 74.52 L288.08 73.12 L287.62 71.26 L287.15 70.33 L286.22 69.40 L285.29 68.94 M292.27 68.94 L292.27 78.70 M292.73 68.94 L292.73 78.70 M290.87 68.94 L294.13 68.94 M290.87 78.70 L294.13 78.70 M297.38 68.94 L297.38 78.70 M297.85 68.94 L297.85 78.70 M295.99 68.94 L299.24 68.94 M295.99 78.70 L299.24 78.70 M302.50 68.94 L302.50 78.70 M302.96 68.94 L302.96 78.70 M301.10 68.94 L304.36 68.94 M301.10 78.70 L304.36 78.70 M290.36 51.84 L288.97 52.30 L288.04 53.23 L287.57 54.16 L287.11 56.02 L287.11 57.41 L287.57 59.27 L288.04 60.20 L288.97 61.13 L290.36 61.60 L291.29 61.60 L292.69 61.13 L293.62 60.20 L294.08 59.27 L294.55 57.41 L294.55 56.02 L294.08 54.16 L293.62 53.23 L292.69 52.30 L291.29 51.84 L290.36 51.84 M290.36 51.84 L289.43 52.30 L288.50 53.23 L288.04 54.16 L287.57 56.02 L287.57 57.41 L288.04 59.27 L288.50 60.20 L289.43 61.13 L290.36 61.60 M291.29 61.60 L292.22 61.13 L293.15 60.20 L293.62 59.27 L294.08 57.41 L294.08 56.02 L293.62 54.16 L293.15 53.23 L292.22 52.30 L291.29 51.84 M298.27 51.84 L298.27 61.60 M298.73 51.84 L298.73 61.60 M296.87 51.84 L300.13 51.84 M296.87 61.60 L300.13 61.60 M303.38 51.84 L303.38 61.60 M303.85 51.84 L303.85 61.60 M301.99 51.84 L305.24 51.84 M301.99 61.60 L305.24 61.60 M308.50 51.84 L308.50 61.60 M308.96 51.84 L308.96 61.60 M307.10 51.84 L310.36 51.84 M307.10 61.60 L310.36 61.60 M457.48 51.84 L456.08 52.30 L455.15 53.23 L454.69 54.16 L454.22 56.02 L454.22 57.41 L454.69 59.27 L455.15 60.20 L456.08 61.13 L457.48 61.60 L458.41 61.60 L459.80 61.13 L460.73 60.20 L461.20 59.27 L461.66 57.41 L461.66 56.02 L461.20 54.16 L460.73 53.23 L459.80 52.30 L458.41 51.84 L457.48 51.84 M457.48 51.84 L456.55 52.30 L455.62 53.23 L455.15 54.16 L454.69 56.02 L454.69 57.41 L455.15 59.27 L455.62 60.20 L456.55 61.13 L457.48 61.60 M458.41 61.60 L459.34 61.13 L460.27 60.20 L460.73 59.27 L461.20 57.41 L461.20 56.02 L460.73 54.16 L460.27 53.23 L459.34 52.30 L458.41 51.84 M465.38 51.84 L465.38 61.60 M465.85 51.84 L465.85 61.60 M463.99 51.84 L467.24 51.84 M463.99 61.60 L467.24 61.60 M465.48 86.03 L464.08 86.50 L463.15 87.43 L462.69 88.36 L462.22 90.22 L462.22 91.61 L462.69 93.47 L463.15 94.41 L464.08 95.33 L465.48 95.80 L466.41 95.80 L467.80 95.33 L468.73 94.41 L469.20 93.47 L469.66 91.61 L469.66 90.22 L469.20 88.36 L468.73 87.43 L467.80 86.50 L466.41 86.03 L465.48 86.03 M465.48 86.03 L464.55 86.50 L463.62 87.43 L463.15 88.36 L462.69 90.22 L462.69 91.61 L463.15 93.47 L463.62 94.41 L464.55 95.33 L465.48 95.80 M466.41 95.80 L467.34 95.33 L468.27 94.41 L468.73 93.47 L469.20 91.61 L469.20 90.22 L468.73 88.36 L468.27 87.43 L467.34 86.50 L466.41 86.03 M473.38 86.03 L473.38 95.80 M473.85 86.03 L473.85 95.80 M471.99 86.03 L475.24 86.03 M471.99 95.80 L475.24 95.80 M483.36 68.94 L483.36 78.70 M483.83 68.94 L489.41 77.77 M483.83 69.87 L489.41 78.70 M489.41 68.94 L489.41 78.70 M481.97 68.94 L483.83 68.94 M488.01 68.94 L490.80 68.94 M481.97 78.70 L484.76 78.70 M494.06 68.94 L494.06 78.70 M494.52 68.94 L494.52 78.70 M492.66 68.94 L495.92 68.94 M492.66 78.70 L495.92 78.70 M499.17 68.94 L499.17 78.70 M499.64 68.94 L499.64 78.70 M497.78 68.94 L501.03 68.94 M497.78 78.70 L501.03 78.70 M484.90 51.84 L484.90 61.60 M485.36 51.84 L485.36 61.60 M490.94 51.84 L490.94 61.60 M491.41 51.84 L491.41 61.60 M483.50 51.84 L486.76 51.84 M489.55 51.84 L492.80 51.84 M485.36 56.48 L490.94 56.48 M483.50 61.60 L486.76 61.60 M489.55 61.60 L492.80 61.60 M498.38 55.09 L496.99 55.55 L496.06 56.48 L495.59 57.41 L495.13 58.81 L495.13 60.20 L495.59 61.13 L496.99 61.60 L497.92 61.60 L498.85 61.13 L500.24 59.74 L501.17 58.34 L502.10 56.48 L502.57 55.09 M498.38 55.09 L497.45 55.55 L496.52 56.48 L496.06 57.41 L495.59 58.81 L495.59 60.20 L496.06 61.13 L496.99 61.60 M498.38 55.09 L499.31 55.09 L500.24 55.55 L500.71 56.48 L501.64 60.20 L502.10 61.13 L502.57 61.60 M499.31 55.09 L499.78 55.55 L500.24 56.48 L501.17 60.20 L501.64 61.13 L502.57 61.60 L503.03 61.60 M488.36 86.03 L488.36 95.80 M488.83 86.03 L494.41 94.87 M488.83 86.97 L494.41 95.80 M494.41 86.03 L494.41 95.80 M486.97 86.03 L488.83 86.03 M493.01 86.03 L495.80 86.03 M486.97 95.80 L489.76 95.80 M499.06 86.03 L499.06 95.80 M499.52 86.03 L499.52 95.80 M497.66 86.03 L500.92 86.03 M497.66 95.80 L500.92 95.80 M504.17 86.03 L504.17 95.80 M504.64 86.03 L504.64 95.80 M502.78 86.03 L506.03 86.03 M502.78 95.80 L506.03 95.80 M510.18 70.33 L510.64 68.94 L510.64 71.73 L510.18 70.33 L509.25 69.40 L507.85 68.94 L506.46 68.94 L505.06 69.40 L504.13 70.33 L504.13 71.26 L504.60 72.19 L505.06 72.66 L505.99 73.12 L508.78 74.05 L509.71 74.52 L510.64 75.45 M504.13 71.26 L505.06 72.19 L505.99 72.66 L508.78 73.59 L509.71 74.05 L510.18 74.52 L510.64 75.45 L510.64 77.31 L509.71 78.23 L508.31 78.70 L506.92 78.70 L505.53 78.23 L504.60 77.31 L504.13 75.91 L504.13 78.70 L504.60 77.31 M514.36 68.94 L514.36 78.70 M514.83 68.94 L514.83 78.70 M512.97 68.94 L516.22 68.94 M512.97 78.70 L516.22 78.70 M519.48 68.94 L519.48 78.70 M519.94 68.94 L519.94 78.70 M518.08 68.94 L521.34 68.94 M518.08 78.70 L521.34 78.70 M512.18 53.23 L512.64 51.84 L512.64 54.62 L512.18 53.23 L511.25 52.30 L509.85 51.84 L508.46 51.84 L507.06 52.30 L506.13 53.23 L506.13 54.16 L506.60 55.09 L507.06 55.55 L507.99 56.02 L510.78 56.95 L511.71 57.41 L512.64 58.34 M506.13 54.16 L507.06 55.09 L507.99 55.55 L510.78 56.48 L511.71 56.95 L512.18 57.41 L512.64 58.34 L512.64 60.20 L511.71 61.13 L510.31 61.60 L508.92 61.60 L507.53 61.13 L506.60 60.20 L506.13 58.81 L506.13 61.60 L506.60 60.20 M516.36 51.84 L516.36 61.60 M516.83 51.84 L516.83 61.60 M514.97 51.84 L518.22 51.84 M514.97 61.60 L518.22 61.60 M521.48 51.84 L521.48 61.60 M521.94 51.84 L521.94 61.60 M520.08 51.84 L523.34 51.84 M520.08 61.60 L523.34 61.60 M512.18 87.43 L512.64 86.03 L512.64 88.83 L512.18 87.43 L511.25 86.50 L509.85 86.03 L508.46 86.03 L507.06 86.50 L506.13 87.43 L506.13 88.36 L506.60 89.29 L507.06 89.75 L507.99 90.22 L510.78 91.15 L511.71 91.61 L512.64 92.55 M506.13 88.36 L507.06 89.29 L507.99 89.75 L510.78 90.69 L511.71 91.15 L512.18 91.61 L512.64 92.55 L512.64 94.41 L511.71 95.33 L510.31 95.80 L508.92 95.80 L507.53 95.33 L506.60 94.41 L506.13 93.01 L506.13 95.80 L506.60 94.41 M516.36 86.03 L516.36 95.80 M516.83 86.03 L516.83 95.80 M514.97 86.03 L518.22 86.03 M514.97 95.80 L518.22 95.80 M521.48 86.03 L521.48 95.80 M521.94 86.03 L521.94 95.80 M520.08 86.03 L523.34 86.03 M520.08 95.80 L523.34 95.80 M728.76 70.33 L729.22 71.73 L729.22 68.94 L728.76 70.33 L727.83 69.40 L726.43 68.94 L725.50 68.94 L724.11 69.40 L723.18 70.33 L722.71 71.26 L722.25 72.66 L722.25 74.98 L722.71 76.38 L723.18 77.31 L724.11 78.23 L725.50 78.70 L726.43 78.70 L727.83 78.23 L728.76 77.31 L729.22 76.38 M725.50 68.94 L724.57 69.40 L723.64 70.33 L723.18 71.26 L722.71 72.66 L722.71 74.98 L723.18 76.38 L723.64 77.31 L724.57 78.23 L725.50 78.70 M732.94 73.12 L732.94 73.59 L732.48 73.59 L732.48 73.12 L732.94 72.66 L733.87 72.19 L735.73 72.19 L736.66 72.66 L737.13 73.12 L737.59 74.05 L737.59 77.31 L738.06 78.23 L738.52 78.70 M737.13 73.12 L737.13 77.31 L737.59 78.23 L738.52 78.70 L738.99 78.70 M737.13 74.05 L736.66 74.52 L733.87 74.98 L732.48 75.45 L732.01 76.38 L732.01 77.31 L732.48 78.23 L733.87 78.70 L735.27 78.70 L736.20 78.23 L737.13 77.31 M733.87 74.98 L732.94 75.45 L732.48 76.38 L732.48 77.31 L732.94 78.23 L733.87 78.70 M742.24 68.94 L742.24 78.70 M742.71 68.94 L742.71 78.70 M740.85 68.94 L744.10 68.94 M740.85 78.70 L744.10 78.70 M747.36 68.94 L747.36 78.70 M747.82 68.94 L747.82 78.70 M745.96 68.94 L749.22 68.94 M745.96 78.70 L749.22 78.70" transform="translate(0.45,0)" stroke="#000" stroke-width="1" fill="none" stroke-linecap="butt" stroke-linejoin="round" shape-rendering="crispEdges"/>
<path d="M132.92 86.03 L131.53 86.50 L130.59 87.43 L130.13 88.36 L129.67 90.22 L129.67 91.61 L130.13 93.47 L130.59 94.41 L131.53 95.33 L132.92 95.80 L133.85 95.80 L135.25 95.33 L136.18 94.41 L136.64 93.47 L137.11 91.61 L137.11 90.22 L136.64 88.36 L136.18 87.43 L135.25 86.50 L133.85 86.03 L132.92 86.03 M132.92 86.03 L131.99 86.50 L131.06 87.43 L130.59 88.36 L130.13 90.22 L130.13 91.61 L130.59 93.47 L131.06 94.41 L131.99 95.33 L132.92 95.80 M133.85 95.80 L134.78 95.33 L135.71 94.41 L136.18 93.47 L136.64 91.61 L136.64 90.22 L136.18 88.36 L135.71 87.43 L134.78 86.50 L133.85 86.03 M140.83 86.03 L140.83 95.80 M141.29 86.03 L141.29 95.80 M139.43 86.03 L142.69 86.03 M139.43 95.80 L142.69 95.80 M145.94 86.03 L145.94 95.80 M146.41 86.03 L146.41 95.80 M144.55 86.03 L147.80 86.03 M144.55 95.80 L147.80 95.80 M132.92 68.94 L131.53 69.40 L130.59 70.33 L130.13 71.26 L129.67 73.12 L129.67 74.52 L130.13 76.38 L130.59 77.31 L131.53 78.23 L132.92 78.70 L133.85 78.70 L135.25 78.23 L136.18 77.31 L136.64 76.38 L137.11 74.52 L137.11 73.12 L136.64 71.26 L136.18 70.33 L135.25 69.40 L133.85 68.94 L132.92 68.94 M132.92 68.94 L131.99 69.40 L131.06 70.33 L130.59 71.26 L130.13 73.12 L130.13 74.52 L130.59 76.38 L131.06 77.31 L131.99 78.23 L132.92 78.70 M133.85 78.70 L134.78 78.23 L135.71 77.31 L136.18 76.38 L136.64 74.52 L136.64 73.12 L136.18 71.26 L135.71 70.33 L134.78 69.40 L133.85 68.94 M140.83 68.94 L140.83 78.70 M141.29 68.94 L141.29 78.70 M139.43 68.94 L142.69 68.94 M139.43 78.70 L142.69 78.70 M145.94 68.94 L145.94 78.70 M146.41 68.94 L146.41 78.70 M144.55 68.94 L147.80 68.94 M144.55 78.70 L147.80 78.70 M139.83 51.84 L139.83 61.60 M140.29 51.84 L140.29 61.60 M145.87 51.84 L145.87 61.60 M146.34 51.84 L146.34 61.60 M138.43 51.84 L141.69 51.84 M144.48 51.84 L147.73 51.84 M140.29 56.48 L145.87 56.48 M138.43 61.60 L141.69 61.60 M144.48 61.60 L147.73 61.60 M153.78 51.84 L152.38 52.30 L151.45 53.70 L150.99 54.62 L150.52 56.02 L150.06 58.34 L150.06 60.20 L150.52 61.13 L151.45 61.60 L152.38 61.60 L153.78 61.13 L154.71 59.74 L155.17 58.81 L155.64 57.41 L156.10 55.09 L156.10 53.23 L155.64 52.30 L154.71 51.84 L153.78 51.84 M153.78 51.84 L152.85 52.30 L151.92 53.70 L151.45 54.62 L150.99 56.02 L150.52 58.34 L150.52 60.20 L150.99 61.13 L151.45 61.60 M152.38 61.60 L153.31 61.13 L154.24 59.74 L154.71 58.81 L155.17 57.41 L155.64 55.09 L155.64 53.23 L155.17 52.30 L154.71 51.84 M150.99 56.48 L155.17 56.48 M144.13 86.03 L144.13 95.80 M144.59 86.03 L144.59 95.80 M150.18 86.03 L150.18 95.80 M150.64 86.03 L150.64 95.80 M142.74 86.03 L145.99 86.03 M148.78 86.03 L152.03 86.03 M144.59 90.69 L150.18 90.69 M142.74 95.80 L145.99 95.80 M148.78 95.80 L152.03 95.80 M153.43 91.15 L153.90 90.22 L154.83 89.29 L156.22 89.29 L156.69 89.75 L156.69 90.69 L156.22 92.55 L155.29 95.80 M155.75 89.29 L156.22 89.75 L156.22 90.69 L155.75 92.55 L154.83 95.80 M156.22 92.55 L157.15 90.69 L158.08 89.75 L159.01 89.29 L159.94 89.29 L160.87 89.75 L161.34 90.22 L161.34 91.61 L160.87 93.94 L159.48 99.05 M159.94 89.29 L160.87 90.22 L160.87 91.61 L160.41 93.94 L159.01 99.05 M148.27 68.94 L148.27 78.70 M148.73 68.94 L148.73 78.70 M154.31 68.94 L154.31 78.70 M154.78 68.94 L154.78 78.70 M146.88 68.94 L150.13 68.94 M152.92 68.94 L156.17 68.94 M148.73 73.59 L154.31 73.59 M146.88 78.70 L150.13 78.70 M152.92 78.70 L156.17 78.70 M158.97 74.98 L164.54 74.98 L164.54 74.05 L164.08 73.12 L163.62 72.66 L162.69 72.19 L161.29 72.19 L159.89 72.66 L158.97 73.59 L158.50 74.98 L158.50 75.91 L158.97 77.31 L159.89 78.23 L161.29 78.70 L162.22 78.70 L163.62 78.23 L164.54 77.31 M164.08 74.98 L164.08 73.59 L163.62 72.66 M161.29 72.19 L160.36 72.66 L159.43 73.59 L158.97 74.98 L158.97 75.91 L159.43 77.31 L160.36 78.23 L161.29 78.70 M168.26 68.94 L168.26 78.70 M168.73 68.94 L168.73 78.70 M166.87 68.94 L170.12 68.94 M166.87 78.70 L170.12 78.70 M161.71 51.84 L161.71 61.60 M162.17 51.84 L162.17 61.60 M168.22 51.84 L162.17 57.88 M164.50 56.02 L168.22 61.60 M164.03 56.02 L167.75 61.60 M160.31 51.84 L163.57 51.84 M166.36 51.84 L169.15 51.84 M160.31 61.60 L163.57 61.60 M166.36 61.60 L169.15 61.60 M165.24 86.03 L165.24 95.80 M165.71 86.03 L165.71 95.80 M171.29 86.03 L171.29 95.80 M171.75 86.03 L171.75 95.80 M163.85 86.03 L167.10 86.03 M169.89 86.03 L173.15 86.03 M165.71 90.69 L171.29 90.69 M163.85 95.80 L167.10 95.80 M169.89 95.80 L173.15 95.80 M179.18 70.33 L179.64 68.94 L179.64 71.73 L179.18 70.33 L178.25 69.40 L176.85 68.94 L175.46 68.94 L174.06 69.40 L173.13 70.33 L173.13 71.26 L173.60 72.19 L174.06 72.66 L174.99 73.12 L177.78 74.05 L178.71 74.52 L179.64 75.45 M173.13 71.26 L174.06 72.19 L174.99 72.66 L177.78 73.59 L178.71 74.05 L179.18 74.52 L179.64 75.45 L179.64 77.31 L178.71 78.23 L177.32 78.70 L175.92 78.70 L174.53 78.23 L173.60 77.31 L173.13 75.91 L173.13 78.70 L173.60 77.31 M183.36 68.94 L183.36 78.70 M183.83 68.94 L183.83 78.70 M181.97 68.94 L185.22 68.94 M181.97 78.70 L185.22 78.70 M188.48 68.94 L188.48 78.70 M188.94 68.94 L188.94 78.70 M187.08 68.94 L190.34 68.94 M187.08 78.70 L190.34 78.70 M177.83 51.84 L177.83 61.60 M178.29 51.84 L178.29 61.60 M183.87 51.84 L183.87 61.60 M184.34 51.84 L184.34 61.60 M176.43 51.84 L179.69 51.84 M182.48 51.84 L185.73 51.84 M178.29 56.48 L183.87 56.48 M176.43 61.60 L179.69 61.60 M182.48 61.60 L185.73 61.60 M192.71 55.55 L191.78 55.09 L190.85 55.09 L189.45 55.55 L188.52 56.95 L188.06 58.34 L188.06 59.74 L188.52 60.67 L188.99 61.13 L189.92 61.60 L190.85 61.60 L192.24 61.13 L193.17 59.74 L193.64 58.34 L193.64 56.95 L193.17 56.02 L191.31 53.70 L190.85 52.77 L190.85 51.84 L191.31 51.37 L192.24 51.37 L193.17 51.84 L194.10 52.77 M190.85 55.09 L189.92 55.55 L188.99 56.95 L188.52 58.34 L188.52 60.20 L188.99 61.13 M190.85 61.60 L191.78 61.13 L192.71 59.74 L193.17 58.34 L193.17 56.48 L192.71 55.55 L191.78 54.16 L191.31 53.23 L191.31 52.30 L191.78 51.84 L192.71 51.84 L194.10 52.77 M213.06 87.43 L213.52 88.83 L213.52 86.03 L213.06 87.43 L212.13 86.50 L210.73 86.03 L209.80 86.03 L208.41 86.50 L207.48 87.43 L207.01 88.36 L206.55 89.75 L206.55 92.08 L207.01 93.47 L207.48 94.41 L208.41 95.33 L209.80 95.80 L210.73 95.80 L212.13 95.33 L213.06 94.41 M209.80 86.03 L208.87 86.50 L207.94 87.43 L207.48 88.36 L207.01 89.75 L207.01 92.08 L207.48 93.47 L207.94 94.41 L208.87 95.33 L209.80 95.80 M213.06 92.08 L213.06 95.80 M213.52 92.08 L213.52 95.80 M211.66 92.08 L214.92 92.08 M207.59 68.94 L207.59 78.70 M208.06 68.94 L208.06 78.70 M213.64 68.94 L213.64 78.70 M214.11 68.94 L214.11 78.70 M206.20 68.94 L209.46 68.94 M212.25 68.94 L215.50 68.94 M208.06 73.59 L213.64 73.59 M206.20 78.70 L209.46 78.70 M212.25 78.70 L215.50 78.70 M216.90 73.59 L217.83 72.66 L218.76 72.19 L219.69 72.19 L220.62 72.66 L221.08 73.12 L221.55 74.52 L221.55 76.38 L221.08 78.23 L219.69 81.95 M217.36 73.12 L218.29 72.66 L220.15 72.66 L221.08 73.12 M224.80 72.19 L224.34 73.59 L223.87 74.52 L221.55 77.77 L220.15 80.09 L219.22 81.95 M224.34 72.19 L223.87 73.59 L223.41 74.52 L221.55 77.77 M210.36 51.84 L208.97 52.30 L208.04 53.23 L207.57 54.16 L207.11 56.02 L207.11 57.41 L207.57 59.27 L208.04 60.20 L208.97 61.13 L210.36 61.60 L211.29 61.60 L212.69 61.13 L213.62 60.20 L214.08 59.27 L214.55 57.41 L214.55 56.02 L214.08 54.16 L213.62 53.23 L212.69 52.30 L211.29 51.84 L210.36 51.84 M210.36 51.84 L209.43 52.30 L208.50 53.23 L208.04 54.16 L207.57 56.02 L207.57 57.41 L208.04 59.27 L208.50 60.20 L209.43 61.13 L210.36 61.60 M211.29 61.60 L212.22 61.13 L213.15 60.20 L213.62 59.27 L214.08 57.41 L214.08 56.02 L213.62 54.16 L213.15 53.23 L212.22 52.30 L211.29 51.84 M218.27 51.84 L218.27 61.60 M218.73 51.84 L218.73 61.60 M216.87 51.84 L220.13 51.84 M216.87 61.60 L220.13 61.60 M223.38 51.84 L223.38 61.60 M223.85 51.84 L223.85 61.60 M221.99 51.84 L225.24 51.84 M221.99 61.60 L225.24 61.60 M228.50 51.84 L228.50 61.60 M228.96 51.84 L228.96 61.60 M227.10 51.84 L230.36 51.84 M227.10 61.60 L230.36 61.60 M272.36 86.03 L272.36 95.80 M272.83 86.03 L272.83 95.80 M278.41 86.03 L278.41 95.80 M278.87 86.03 L278.87 95.80 M270.97 86.03 L274.22 86.03 M277.01 86.03 L280.27 86.03 M272.83 90.69 L278.41 90.69 M270.97 95.80 L274.22 95.80 M277.01 95.80 L280.27 95.80 M287.24 86.03 L285.85 86.50 L284.92 87.43 L283.99 89.29 L283.52 90.69 L283.06 92.55 L282.59 95.33 L282.13 99.05 M287.24 86.03 L286.31 86.50 L285.38 87.43 L284.45 89.29 L283.99 90.69 L283.52 92.55 L283.06 95.33 L282.59 99.05 M287.24 86.03 L288.17 86.03 L289.10 86.50 L289.57 86.97 L289.57 88.36 L289.10 89.29 L288.64 89.75 L287.24 90.22 L285.38 90.22 M288.17 86.03 L289.10 86.97 L289.10 88.36 L288.64 89.29 L288.17 89.75 L287.24 90.22 M285.38 90.22 L287.24 90.69 L288.17 91.61 L288.64 92.55 L288.64 93.94 L288.17 94.87 L287.71 95.33 L286.31 95.80 L285.38 95.80 L284.45 95.33 L283.99 94.87 L283.52 93.47 M285.38 90.22 L286.78 90.69 L287.71 91.61 L288.17 92.55 L288.17 93.94 L287.71 94.87 L287.24 95.33 L286.31 95.80 M284.36 68.94 L282.97 69.40 L282.04 70.33 L281.57 71.26 L281.11 73.12 L281.11 74.52 L281.57 76.38 L282.04 77.31 L282.97 78.23 L284.36 78.70 L285.29 78.70 L286.69 78.23 L287.62 77.31 L288.08 76.38 L288.55 74.52 L288.55 73.12 L288.08 71.26 L287.62 70.33 L286.69 69.40 L285.29 68.94 L284.36 68.94 M284.36 68.94 L283.43 69.40 L282.50 70.33 L282.04 71.26 L281.57 73.12 L281.57 74.52 L282.04 76.38 L282.50 77.31 L283.43 78.23 L284.36 78.70 M285.29 78.70 L286.22 78.23 L287.15 77.31 L287.62 76.38 L288.08 74.52 L288.08 73.12 L287.62 71.26 L287.15 70.33 L286.22 69.40 L285.29 68.94 M292.27 68.94 L292.27 78.70 M292.73 68.94 L292.73 78.70 M290.87 68.94 L294.13 68.94 M290.87 78.70 L294.13 78.70 M297.38 68.94 L297.38 78.70 M297.85 68.94 L297.85 78.70 M295.99 68.94 L299.24 68.94 M295.99 78.70 L299.24 78.70 M302.50 68.94 L302.50 78.70 M302.96 68.94 L302.96 78.70 M301.10 68.94 L304.36 68.94 M301.10 78.70 L304.36 78.70 M290.36 51.84 L288.97 52.30 L288.04 53.23 L287.57 54.16 L287.11 56.02 L287.11 57.41 L287.57 59.27 L288.04 60.20 L288.97 61.13 L290.36 61.60 L291.29 61.60 L292.69 61.13 L293.62 60.20 L294.08 59.27 L294.55 57.41 L294.55 56.02 L294.08 54.16 L293.62 53.23 L292.69 52.30 L291.29 51.84 L290.36 51.84 M290.36 51.84 L289.43 52.30 L288.50 53.23 L288.04 54.16 L287.57 56.02 L287.57 57.41 L288.04 59.27 L288.50 60.20 L289.43 61.13 L290.36 61.60 M291.29 61.60 L292.22 61.13 L293.15 60.20 L293.62 59.27 L294.08 57.41 L294.08 56.02 L293.62 54.16 L293.15 53.23 L292.22 52.30 L291.29 51.84 M298.27 51.84 L298.27 61.60 M298.73 51.84 L298.73 61.60 M296.87 51.84 L300.13 51.84 M296.87 61.60 L300.13 61.60 M303.38 51.84 L303.38 61.60 M303.85 51.84 L303.85 61.60 M301.99 51.84 L305.24 51.84 M301.99 61.60 L305.24 61.60 M308.50 51.84 L308.50 61.60 M308.96 51.84 L308.96 61.60 M307.10 51.84 L310.36 51.84 M307.10 61.60 L310.36 61.60 M457.48 51.84 L456.08 52.30 L455.15 53.23 L454.69 54.16 L454.22 56.02 L454.22 57.41 L454.69 59.27 L455.15 60.20 L456.08 61.13 L457.48 61.60 L458.41 61.60 L459.80 61.13 L460.73 60.20 L461.20 59.27 L461.66 57.41 L461.66 56.02 L461.20 54.16 L460.73 53.23 L459.80 52.30 L458.41 51.84 L457.48 51.84 M457.48 51.84 L456.55 52.30 L455.62 53.23 L455.15 54.16 L454.69 56.02 L454.69 57.41 L455.15 59.27 L455.62 60.20 L456.55 61.13 L457.48 61.60 M458.41 61.60 L459.34 61.13 L460.27 60.20 L460.73 59.27 L461.20 57.41 L461.20 56.02 L460.73 54.16 L460.27 53.23 L459.34 52.30 L458.41 51.84 M465.38 51.84 L465.38 61.60 M465.85 51.84 L465.85 61.60 M463.99 51.84 L467.24 51.84 M463.99 61.60 L467.24 61.60 M465.48 86.03 L464.08 86.50 L463.15 87.43 L462.69 88.36 L462.22 90.22 L462.22 91.61 L462.69 93.47 L463.15 94.41 L464.08 95.33 L465.48 95.80 L466.41 95.80 L467.80 95.33 L468.73 94.41 L469.20 93.47 L469.66 91.61 L469.66 90.22 L469.20 88.36 L468.73 87.43 L467.80 86.50 L466.41 86.03 L465.48 86.03 M465.48 86.03 L464.55 86.50 L463.62 87.43 L463.15 88.36 L462.69 90.22 L462.69 91.61 L463.15 93.47 L463.62 94.41 L464.55 95.33 L465.48 95.80 M466.41 95.80 L467.34 95.33 L468.27 94.41 L468.73 93.47 L469.20 91.61 L469.20 90.22 L468.73 88.36 L468.27 87.43 L467.34 86.50 L466.41 86.03 M473.38 86.03 L473.38 95.80 M473.85 86.03 L473.85 95.80 M471.99 86.03 L475.24 86.03 M471.99 95.80 L475.24 95.80 M483.36 68.94 L483.36 78.70 M483.83 68.94 L489.41 77.77 M483.83 69.87 L489.41 78.70 M489.41 68.94 L489.41 78.70 M481.97 68.94 L483.83 68.94 M488.01 68.94 L490.80 68.94 M481.97 78.70 L484.76 78.70 M494.06 68.94 L494.06 78.70 M494.52 68.94 L494.52 78.70 M492.66 68.94 L495.92 68.94 M492.66 78.70 L495.92 78.70 M499.17 68.94 L499.17 78.70 M499.64 68.94 L499.64 78.70 M497.78 68.94 L501.03 68.94 M497.78 78.70 L501.03 78.70 M484.90 51.84 L484.90 61.60 M485.36 51.84 L485.36 61.60 M490.94 51.84 L490.94 61.60 M491.41 51.84 L491.41 61.60 M483.50 51.84 L486.76 51.84 M489.55 51.84 L492.80 51.84 M485.36 56.48 L490.94 56.48 M483.50 61.60 L486.76 61.60 M489.55 61.60 L492.80 61.60 M498.38 55.09 L496.99 55.55 L496.06 56.48 L495.59 57.41 L495.13 58.81 L495.13 60.20 L495.59 61.13 L496.99 61.60 L497.92 61.60 L498.85 61.13 L500.24 59.74 L501.17 58.34 L502.10 56.48 L502.57 55.09 M498.38 55.09 L497.45 55.55 L496.52 56.48 L496.06 57.41 L495.59 58.81 L495.59 60.20 L496.06 61.13 L496.99 61.60 M498.38 55.09 L499.31 55.09 L500.24 55.55 L500.71 56.48 L501.64 60.20 L502.10 61.13 L502.57 61.60 M499.31 55.09 L499.78 55.55 L500.24 56.48 L501.17 60.20 L501.64 61.13 L502.57 61.60 L503.03 61.60 M488.36 86.03 L488.36 95.80 M488.83 86.03 L494.41 94.87 M488.83 86.97 L494.41 95.80 M494.41 86.03 L494.41 95.80 M486.97 86.03 L488.83 86.03 M493.01 86.03 L495.80 86.03 M486.97 95.80 L489.76 95.80 M499.06 86.03 L499.06 95.80 M499.52 86.03 L499.52 95.80 M497.66 86.03 L500.92 86.03 M497.66 95.80 L500.92 95.80 M504.17 86.03 L504.17 95.80 M504.64 86.03 L504.64 95.80 M502.78 86.03 L506.03 86.03 M502.78 95.80 L506.03 95.80 M510.18 70.33 L510.64 68.94 L510.64 71.73 L510.18 70.33 L509.25 69.40 L507.85 68.94 L506.46 68.94 L505.06 69.40 L504.13 70.33 L504.13 71.26 L504.60 72.19 L505.06 72.66 L505.99 73.12 L508.78 74.05 L509.71 74.52 L510.64 75.45 M504.13 71.26 L505.06 72.19 L505.99 72.66 L508.78 73.59 L509.71 74.05 L510.18 74.52 L510.64 75.45 L510.64 77.31 L509.71 78.23 L508.31 78.70 L506.92 78.70 L505.53 78.23 L504.60 77.31 L504.13 75.91 L504.13 78.70 L504.60 77.31 M514.36 68.94 L514.36 78.70 M514.83 68.94 L514.83 78.70 M512.97 68.94 L516.22 68.94 M512.97 78.70 L516.22 78.70 M519.48 68.94 L519.48 78.70 M519.94 68.94 L519.94 78.70 M518.08 68.94 L521.34 68.94 M518.08 78.70 L521.34 78.70 M512.18 53.23 L512.64 51.84 L512.64 54.62 L512.18 53.23 L511.25 52.30 L509.85 51.84 L508.46 51.84 L507.06 52.30 L506.13 53.23 L506.13 54.16 L506.60 55.09 L507.06 55.55 L507.99 56.02 L510.78 56.95 L511.71 57.41 L512.64 58.34 M506.13 54.16 L507.06 55.09 L507.99 55.55 L510.78 56.48 L511.71 56.95 L512.18 57.41 L512.64 58.34 L512.64 60.20 L511.71 61.13 L510.31 61.60 L508.92 61.60 L507.53 61.13 L506.60 60.20 L506.13 58.81 L506.13 61.60 L506.60 60.20 M516.36 51.84 L516.36 61.60 M516.83 51.84 L516.83 61.60 M514.97 51.84 L518.22 51.84 M514.97 61.60 L518.22 61.60 M521.48 51.84 L521.48 61.60 M521.94 51.84 L521.94 61.60 M520.08 51.84 L523.34 51.84 M520.08 61.60 L523.34 61.60 M512.18 87.43 L512.64 86.03 L512.64 88.83 L512.18 87.43 L511.25 86.50 L509.85 86.03 L508.46 86.03 L507.06 86.50 L506.13 87.43 L506.13 88.36 L506.60 89.29 L507.06 89.75 L507.99 90.22 L510.78 91.15 L511.71 91.61 L512.64 92.55 M506.13 88.36 L507.06 89.29 L507.99 89.75 L510.78 90.69 L511.71 91.15 L512.18 91.61 L512.64 92.55 L512.64 94.41 L511.71 95.33 L510.31 95.80 L508.92 95.80 L507.53 95.33 L506.60 94.41 L506.13 93.01 L506.13 95.80 L506.60 94.41 M516.36 86.03 L516.36 95.80 M516.83 86.03 L516.83 95.80 M514.97 86.03 L518.22 86.03 M514.97 95.80 L518.22 95.80 M521.48 86.03 L521.48 95.80 M521.94 86.03 L521.94 95.80 M520.08 86.03 L523.34 86.03 M520.08 95.80 L523.34 95.80 M728.76 70.33 L729.22 71.73 L729.22 68.94 L728.76 70.33 L727.83 69.40 L726.43 68.94 L725.50 68.94 L724.11 69.40 L723.18 70.33 L722.71 71.26 L722.25 72.66 L722.25 74.98 L722.71 76.38 L723.18 77.31 L724.11 78.23 L725.50 78.70 L726.43 78.70 L727.83 78.23 L728.76 77.31 L729.22 76.38 M725.50 68.94 L724.57 69.40 L723.64 70.33 L723.18 71.26 L722.71 72.66 L722.71 74.98 L723.18 76.38 L723.64 77.31 L724.57 78.23 L725.50 78.70 M732.94 73.12 L732.94 73.59 L732.48 73.59 L732.48 73.12 L732.94 72.66 L733.87 72.19 L735.73 72.19 L736.66 72.66 L737.13 73.12 L737.59 74.05 L737.59 77.31 L738.06 78.23 L738.52 78.70 M737.13 73.12 L737.13 77.31 L737.59 78.23 L738.52 78.70 L738.99 78.70 M737.13 74.05 L736.66 74.52 L733.87 74.98 L732.48 75.45 L732.01 76.38 L732.01 77.31 L732.48 78.23 L733.87 78.70 L735.27 78.70 L736.20 78.23 L737.13 77.31 M733.87 74.98 L732.94 75.45 L732.48 76.38 L732.48 77.31 L732.94 78.23 L733.87 78.70 M742.24 68.94 L742.24 78.70 M742.71 68.94 L742.71 78.70 M740.85 68.94 L744.10 68.94 M740.85 78.70 L744.10 78.70 M747.36 68.94 L747.36 78.70 M747.82 68.94 L747.82 78.70 M745.96 68.94 L749.22 68.94 M745.96 78.70 L749.22 78.70" stroke="#000" stroke-width="1" fill="none" stroke-linecap="butt" stroke-linejoin="round" shape-rendering="crispEdges"/>
<path d="" stroke="#000" stroke-width="1.6" fill="none" stroke-linecap="square" stroke-linejoin="round" shape-rendering="crispEdges"/>
</svg></body></html>
